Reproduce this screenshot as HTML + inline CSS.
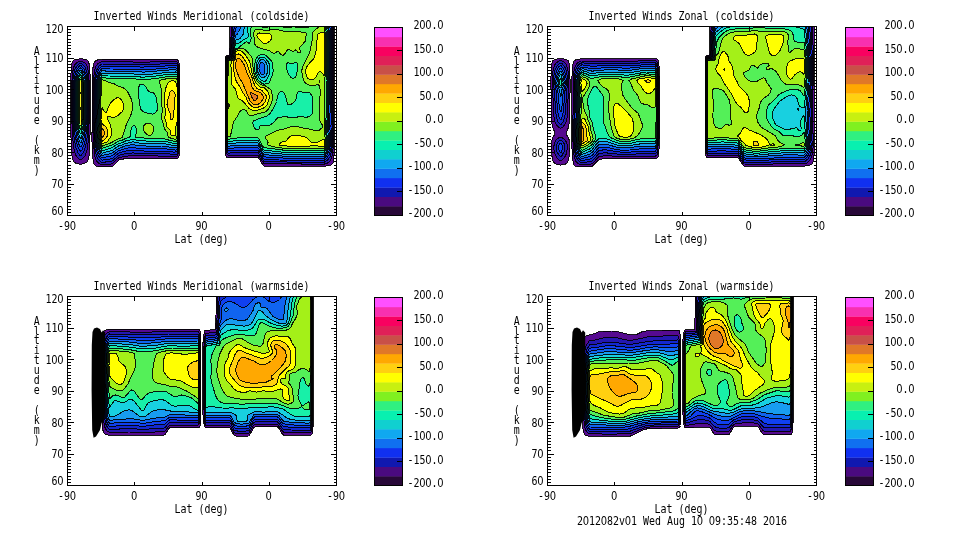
<!DOCTYPE html>
<html lang="en"><head><meta charset="utf-8"><title>Inverted Winds</title>
<style>
html,body{margin:0;padding:0;background:#fff;overflow:hidden}
svg{display:block;opacity:.999;will-change:transform}
text{font-family:'DejaVu Sans Mono','Liberation Mono',monospace;font-size:12px;fill:#000}
.z{font-family:'DejaVu Sans','Liberation Sans',sans-serif}
</style></head><body>
<svg width="960" height="540" viewBox="0 0 960 540">
<rect width="960" height="540" fill="#fff"/>
<clipPath id="c0"><rect x="67.5" y="26.5" width="269" height="189"/></clipPath>
<g clip-path="url(#c0)" stroke="#000" stroke-opacity=".9" stroke-width="1.0" stroke-linejoin="round" shape-rendering="crispEdges">
<path fill="#560a90" fill-rule="evenodd" d="M229.9 25 334.3 25 334.1 154 333.7 160 333 163 331.5 164.8 328.5 165.7 324 166.2 264 166 261.5 163 259.5 159.3 258 157.6 228 157.7 226.4 157 225.7 155.5 225.4 154 225.2 146.5 225.1 59.5 225.5 56.5 226.5 55.5 229.4 55ZM75 59.5 81 58.7 86.1 59.5 88.5 61.4 89.5 65.5 90.5 82 90.4 124 89.4 154 88.5 159.2 87 162 84 163.6 81 164.2 78 163.9 75.5 163 73.7 161.5 72.9 160 71.7 154 71.1 143.5 70.8 125.5 71 73 71.3 67 72.1 62.5 73.5 60.3ZM101.5 59.5 175.5 59.4 177 59.4 178.7 61 179.6 65.5 179.9 80.5 179.8 140.5 179.2 155.5 178.5 157.4 177 158.7 163.5 158.6 132 158.5 124.5 158.8 119.1 160 112.5 166.3 111 166.7 99 166.8 96 166.1 94.2 164.5 93.3 161.5 92.6 155.5 92 142 92.1 80.5 92.5 73 93.2 65.5 94.5 61.7 96 60.5 97.5 60Z"/>
<path fill="#2418b0" fill-rule="evenodd" d="M231.6 25 333.2 25 333.3 146.5 332.5 154 331.5 158.3 330 161 327.6 163 324 164.2 264 163.7 258 155.1 228 155.3 227 154 225.9 149.5 225.4 137.5 225.4 61 225.8 58 226.5 56.8 228 56.1 229.5 55.9 230.1 55ZM80.7 61 84.2 62.5 85.8 64 87 66.2 88.3 71.5 89.2 82 89.2 121 88 143.5 87 150.2 85.5 154.9 84 157.3 81 159.9 79.5 159.6 76.8 157 75.2 154 74.3 151 72.7 139 71.8 119.5 71.8 82 72.8 71.5 73.8 67 75.3 64 78 61.8ZM99.7 62.5 102 61.7 142.5 62.1 177 61.7 178 64 178.7 68.5 179.4 80.5 179.4 137.5 178.7 149.5 178 154 177 156.4 165 156.1 133.5 155.7 124.5 156.2 118.5 157.9 112.5 163.5 111 164.1 106.5 164.4 102 164.7 101.1 164.5 99 163.6 96.8 161.5 95.3 158.5 94.5 154.9 93.4 142 93.6 80.5 94.2 73 95.1 68.5 96.4 65.5 97.6 64Z"/>
<path fill="#1428d0" fill-rule="evenodd" d="M233.1 25 332.1 25 332.4 43 332.1 127 332.4 145 331.5 151.8 330 156.7 328.5 159.1 325.5 161.6 324 162.2 298.5 162.3 264 161.4 258 152.6 238.5 152.6 228 153.1 226.5 148.7 225.7 137.5 225.7 61 226.5 57.8 228 56.8 230.1 56.5 230.7 55 231.3 43ZM78.9 64 81 63.2 83.8 65.5 85.5 68 87.1 73 88.4 82 88.4 119.5 87.4 134.5 86.5 142 85.1 148 83.3 152.5 81.2 155.5 79.5 155 78 152.9 75.6 146.5 73.8 136 72.8 121 72.7 82 73 79 74 73 75 69.4 76.5 66.5ZM101.9 64 142.5 64.6 169.5 63.7 177 63.9 178.1 68.5 179 80.5 179 136 178.1 149.5 177 154.2 174 154.3 166.5 153.8 148.5 153.7 136.5 153.3 133.5 152.9 126 153.5 118.5 155.5 112.5 160.9 111 161.4 102 162.4 100.5 161.6 98.8 160 96.9 157 95.9 154 95 149.5 94.3 142 94 133 94.6 80.5 95.4 74.5 96.7 70 99 66.1Z"/>
<path fill="#1040f0" fill-rule="evenodd" d="M234.5 25 331 25 331.5 43 331 127 331.4 145 330.8 149.5 329.4 154 327 158 324.5 160 324 160.3 297 160.4 279 160 264 159.1 262.5 157.4 259.5 152 258 150.2 238.5 150.1 228 150.8 226.6 145 226 136 226 61 226.3 59.5 227.1 58 228 57.3 229.5 57.2 231.2 56.5 232 44.5ZM78.5 67 79.5 66 81 65.5 84 69 86.1 74.5 87.5 82 87.2 124 85.4 139 83.9 145 82.1 149.5 81 151.4 79.5 150.4 77.2 145 75 134.7 73.7 121 73.6 82 75.4 73 76.6 70ZM100.9 67 102 66.2 108 66.6 132 66.7 142.5 67.1 169.5 65.8 175.5 65.7 177 66.1 178.2 74.5 178.6 88 178.5 136 177.8 148 177 151.9 174 152.1 165 151.2 148.5 151.2 136.5 150.7 132 150.2 124.5 151.2 118.5 153.1 112.5 158.2 111 158.8 102 160.1 100.1 158.5 97.5 154 96.2 149.5 95.1 142 94.7 133 95.2 116.5 95.5 80.5 97.5 72.2 99 69.2Z"/>
<path fill="#1064f0" fill-rule="evenodd" d="M237 25 329.9 25 330.6 43 329.9 127 330.5 145 329.1 151 326.9 155.5 325.5 157.2 324 158.3 321 158.2 295.5 158.4 279 157.9 264 156.9 262.5 155 259.5 149.6 258 147.7 238.5 147.6 228 148.5 226.9 143.5 226.2 136 226.3 61 226.7 59.5 227.8 58 231 57.5 231.8 56.5 233.3 41.5 235.5 28.7 236.7 26.5ZM79.5 68.5 81 67.8 83.6 71.5 85.3 76 86.6 82 86.5 121 84.5 136 83.1 142 81.3 146.5 81 147.1 79.5 145.9 77.2 139 75.6 130 74.5 119.5 74.5 82 76.5 73.9 78 70.6ZM101.9 68.5 109.5 69 132 69.1 142.5 69.6 154.5 69.1 169.5 67.9 175.5 67.8 177 68.3 178 76 178.3 88 178.3 136 177.6 146.5 177 149.7 175.5 150.1 165 148.7 148.5 148.8 136.5 148.1 133.5 147.4 132 147.4 126 148.4 118.5 150.7 112.5 155.5 111 156.1 102 157.8 100.5 156.3 98.5 152.5 96.7 146.5 96 142 95.4 133 96.1 116.5 96.5 80.5 98.7 73 100.4 70Z"/>
<path fill="#189cf0" fill-rule="evenodd" d="M241.1 25 328.8 25 329.6 43 328.8 127 329.5 145 328.9 148 327.1 152.5 325.5 155 324 156.4 315 156.1 295.5 156.5 279 155.9 264 154.6 262.5 152.7 259.5 147.2 258 145.2 238.5 145.2 228 146.2 227.1 142 226.5 136 226.6 61 227.1 59.5 228 58.4 231.5 58 232.3 56.5 233.6 44.5 235.5 35.5 237 34.4 238.5 32.5 240.9 26.5ZM261 62.3 259.5 65 258.9 68.5 259.5 71.3 260.4 73 261 74.1 262.5 74.9 264 73.9 264.4 73 264.9 70 264.7 67 264 63.8 262.5 62.2ZM169.4 70 175.5 69.9 177 70.5 177.7 76 178.1 91 178.1 134.5 177.8 140.5 177 147.4 175.5 147.9 174 147.8 162 146 148.5 146.3 144 145.8 136.5 145.5 133.5 144.6 132 144.7 126 145.8 118.5 148.4 112.5 152.8 108 154.2 102 155.5 100.8 154 98.2 148 96.8 142 96.5 139 96.2 133 97 116.5 97.5 80.5 98.8 76 100.5 72.5 102 70.6 108 71.3 132 71.5 144 72.1ZM79.1 71.5 79.5 70.9 81 70.1 82 71.5 84.1 76 85.7 82 85.6 121 84 132.3 81.9 140.5 81 142.9 79.5 141.3 78.7 139 76.7 130 75.4 119.5 75.4 82 77 76Z"/>
<path fill="#18d0e0" fill-rule="evenodd" d="M244.7 25 327.8 25 328.7 43 328.7 64 328.1 80.5 328.1 118 327.7 127 328.6 145 327 150.1 325.5 152.8 324 154.4 312 154.1 295.5 154.6 279 153.9 264 152.3 262.5 150.4 258 142.8 238.5 142.7 228 143.9 226.9 136 227 61 228 58.9 232.8 58 233.1 52 235.5 40.2 238.5 39.5 240 38.5 242.6 35.5 243.2 34ZM262.5 59.5 261 59.6 259.3 61 257.9 64 257.2 68.5 258 72.4 259.5 75.7 261 77.1 262.5 77.5 264 77.4 265.9 76 267.2 73 267.4 70 267.1 65.5 266.1 62.5 264 60.1ZM80 73 81 72.3 82.2 74.5 84.8 82 84.7 121 83 131.5 81 138.6 79.5 136.8 78.5 133 76.3 119.5 76.3 82 78 76.5ZM101.9 73 109.5 73.7 132 73.8 142.5 74.7 154.5 73.9 169.5 72.1 175.5 72 177 72.7 177.8 80.5 177.9 94 177.8 136 177 145.2 175.5 145.8 174 145.6 165 143.8 157.5 143.5 148.5 143.9 144 143.2 136.5 142.9 133.5 141.8 132 141.9 130.5 142.5 126 143.3 121.5 145.2 118.5 146 112.5 150.2 102 153.2 99.9 149.5 98.4 145 97.7 142 96.9 133 97.9 116.5 98.5 80.5 100.1 76Z"/>
<path fill="#18f0a8" fill-rule="evenodd" d="M248.2 25 326.7 25 327.8 43 327.7 64 327.1 80.5 327.1 118 326.6 127 327.6 145 326.1 149.5 324 152.5 315 152.1 306 152.4 297 152.7 280.5 152 264 150 262.5 148.1 258 140.3 238.5 140.2 228 141.7 227.2 136 227 106 227.3 61 228 59.5 232.5 58.8 233.3 58 233.7 52 235.5 43.8 238.5 43.5 244.5 39.1 247.5 37.8 248.3 37 248.4 35.5 247.3 29.5ZM261 57.3 259.5 58 257.2 61 256.3 64 256 70 256.7 73 258.6 77.5 259.5 78.8 264 81.8 265.5 81.2 267 79.3 269.3 74.5 269.8 71.5 269.6 65.5 268.7 62.5 265.5 58.5 264 57.5ZM166.6 74.5 175.5 74.1 177 74.9 177.6 80.5 177.7 94 177.6 134.5 177 143 175.5 143.6 174 143.4 165 141.4 162 141 148.5 141.5 144 140.7 136.5 140.3 133.5 139.1 132 139.2 130.5 139.9 126 140.8 121.5 142.9 118.5 143.6 111 148.1 102 150.8 100.5 148.3 99.3 145 98.1 139 97.6 133 98.8 116.5 99.4 82 100 79 102 75.1 108 76 132 76.2 142.5 77.2 154.5 76.3ZM79.4 76 81 74.6 83.9 82 83.9 119.5 83.1 125.5 81.4 133 81 134.3 79.5 132.2 78 125.4 77.2 119.5 77.2 82Z"/>
<path fill="#54f058" fill-rule="evenodd" d="M253.3 25 258.5 25 260.1 26.5 264 27.7 271.2 26.5 275.4 25 277.6 25 281.1 26.5 285 27.4 294 26.9 300 27.4 307.5 27.5 310.5 26.7 311.7 25 325.6 25 326.8 43 326.8 64 326 80.5 326 118 325.5 127 326.6 145 325.7 148 324 150.5 313.5 150.1 304.5 150.6 297 150.8 280.5 149.9 270 148.3 264 147.7 262.5 145.7 259.8 140.5 258 137.8 238.5 137.7 228 139.4 227.6 136 227.3 106 227.7 61 228 60.2 232.5 59.4 233.7 58 234.3 52 235.5 48.2 237 48.4 239 47.5 240 46.3 246 41.8 247.5 42.2 248.8 43 249 43.5 250.5 40.9 251.1 38.5 250.6 29.5 251 28ZM261 54.6 258 55.8 255.7 59.5 254.7 64 254.8 71.5 257.3 79 258 80 262.5 83.8 264 84.1 267 83.9 268.5 83.4 269.7 82 270.6 79 272.7 74.5 273.1 71.5 272.8 64 271.4 61 267 56.3 264 54.6ZM280.5 91.6 279 93 277.9 95.5 276.5 101.5 275.4 104.5 270.3 113.5 267 116 260.7 118 253.5 121 252.9 122.5 253.2 125.5 255 128.7 256.5 129.9 258 129.7 259.3 128.5 260.2 125.5 261 124.9 264 125.8 265.5 125.9 270 125 273.8 122.5 277.5 117.7 285 116.5 288 117.1 292.5 118 300 116.5 306 117.3 309 116.7 310.5 115.9 312 113.9 312.7 110.5 313 100 312.5 97 310.5 93.5 309 92.4 303 92.3 300 91.1 298.5 91.4 297.1 94 296.1 98.5 294.7 101.5 292.5 103.6 289.5 104.9 287.9 104.5 284.7 94 283.5 92.5 282 91.6ZM288 62.5 286.4 64 286.1 67 288.6 74.5 291 77.5 292.5 78.2 294 78.1 295.5 77 296.6 74.5 297.1 71.5 297.3 65.5 297 62.9 295.5 62.4 292.5 64 291 63.9ZM80.3 77.5 81 76.9 83 82 83 119.5 81 130 79.5 127.6 78.1 119.5 78.1 82 79.5 78.2ZM101.9 77.5 109.5 78.4 133.5 78.7 142.5 79.8 154.5 78.7 169.5 76.3 175.5 76.2 177 77.1 177.5 94 177.4 134.5 177 140.7 175.5 141.5 169.5 140.3 163.5 138.5 154.5 138.5 148.5 139 144 138 136 137.5 135.7 136 136.5 131.5 136.3 128.5 135 125.7 133.5 125.3 132 127 131.3 128.5 130.6 131.5 130.2 136 129.6 137.5 126 138.2 121.5 140.5 118.5 141.2 112.5 144.8 102 148.5 100.5 145.6 99.4 142 98.4 133 99.7 116.5 100.3 83.5 100.5 80.5ZM141 84.2 139.5 85.1 139 86.5 138.4 94 139.9 106 140.7 109 142.5 111.2 145.5 112.6 151.5 114 153 114 154.5 113.4 157.1 110.5 157.9 107.5 156 97 155.4 95.5 154.5 93.8 153 92.7 150 92.1 148.5 91.3 145.6 86.5 144 84.8 142.5 84.1Z"/>
<path fill="#a4f018" fill-rule="evenodd" d="M320.1 26.5 321.2 25 324.2 25 325.8 38.5 325.9 64 324.8 80.5 324.8 118 324.1 127 325.5 142 325.7 145 325.3 146.5 324 148.6 313.5 148.1 298.5 148.9 280.5 147.9 272.5 146.5 267.6 145 268.1 142 267.5 140.5 266.2 139 265.4 137.5 266.1 136 270 134 277.5 130.2 283.5 129.1 289.5 127.1 292.5 126.5 297 126.5 301.5 127.8 309 129 316.5 131 319.6 130 322.8 127 322.6 125.5 320.1 121 319.5 118 319.4 103 320.4 91 319.5 86.7 318.8 85 318 84 315 85.5 312 85.7 309 85 306 83.3 304.5 82 303.6 80.5 301.7 71.5 302.4 67 309 54 310.3 50.5 312.4 38.5 312.7 32.5 315.2 29.5ZM319.5 80.3 319.5 82.4 319.9 80.5ZM255.9 29.5 258 29.2 265.5 30.4 273 29.7 277.5 29.7 285 31.4 288 31.6 295.5 31.1 306 32.9 306.6 34 305.7 37 305.2 41.5 300.8 46 299.6 47.5 299.2 49 300 49.8 300.7 52 300 52.7 298.5 52.4 297.6 52 297 51 295.5 50.5 292.5 51.4 289.5 49.6 288 49.5 286.5 50.9 285 53.5 283.5 55 282 55 279.8 53.5 279 51.7 277.5 51.2 274.5 53.3 273 53 268.5 50.3 262.5 48.9 256.5 46.6 254.9 44.5 253.6 34 254.2 31ZM295.5 49 295.5 49.3 296.2 49ZM238.2 49 241.5 48.3 244.5 49.1 246.3 50.5 251.2 56.5 252.5 59.5 253.3 71.5 256.4 80.5 261 84.7 265.5 85.9 270.6 89.5 271.5 91 272.6 97 271.9 101.5 270.1 106 267.4 110.5 265.5 111.8 250.5 115.9 248.6 115 246 110.5 244.5 109.8 243 109.6 241.5 110.2 239.7 112 237.3 116.5 234 121.1 233 124 230.5 136 228 136.8 227.9 136 227.7 104.5 228.2 61 234 59.7 234.6 53.5 235.3 50.5 235.5 50ZM165.5 79 174 78.3 175.5 78.3 177 79.3 177.3 94 177 138.2 175.5 139.3 172.5 138.7 168.9 137.5 167.9 136 167.6 133 164.2 128.5 163.6 124 162.3 121 161.6 118 161.7 115 162.6 110.5 161.2 101.5 161.3 89.5 159.2 80.5ZM79.6 80.5 81 79.2 82.1 82 82.1 119.5 81 125.8 79.5 123.1 79 119.5 79 82ZM101.6 80.5 102 79.7 105.4 80.5 108 82.2 114 83.8 118.5 86.2 124.5 88.4 126 89.7 127.5 91.6 131.7 100 132.5 106 132 111.6 130.3 116.5 126.5 124 122.7 136 122.1 137.5 121.5 137.8 118.5 138.7 111 142.8 102 146.2 100.5 142.9 99.1 133 100.7 115 101.2 86.5ZM145.3 124 147 123.3 148.5 123.2 150.8 124 152.6 125.5 153.3 127 153.5 130 152.9 133 151.8 134.5 150 135.6 148.5 135.5 145.5 133.3 144.3 131.5 143.7 130 143.5 127 144 125.5Z"/>
<path fill="#ffff00" fill-rule="evenodd" d="M320.9 32.5 324 32.2 324.6 38.5 324.8 62.5 324 76.1 322.5 73.5 321 72.1 319.5 71.7 318 72.7 315.6 77.5 314.2 79 312 79.7 310.5 79.7 309 79.2 307.5 77.9 305.6 73 305.3 71.5 305.5 70 307.5 65.3 313.1 59.5 314.7 56.5 316.2 50.5 317.4 35.5 318 33.9ZM257.3 34 258 33.3 259.5 33 270 34 271.9 35.5 271.6 38.5 270 41 267 43.1 265.5 43.4 263.1 43 258 38 256.9 35.5ZM238.1 50.5 240.1 50.5 243 52.4 245.4 55 249 60.5 250.4 64 251.6 71.5 254.7 80.5 256.5 83.5 259.5 86.7 261 87.4 264 87.6 267.4 91 268.5 93.2 269.5 97 269.3 98.5 267.3 104.5 264.7 107.5 261 109 256.5 110.4 253.5 110.5 250.5 109.6 249 108.4 243 101.3 238.5 98.5 237.6 97 235.7 89.5 232.5 85.6 231.4 83.5 231.1 80.5 231.5 71.5 230.9 65.5 231.3 61 234 60.3 234.6 59.5 235.5 51.9ZM80.4 82 81 81.4 81.2 82 81.1 121 81 121.5 80.7 121 80.4 119.5 80.3 116.5ZM169.3 82 171 81.1 172.5 80.8 175.5 81.2 177 87.1 177 121.6 175.9 127 175.8 134.5 175.5 135.4 174 135.8 172.5 135.9 171 135 170.7 131.5 169.9 130 166.9 127 166.5 124 164.7 118 165.6 112 164.3 103 165.1 91 166.5 85.6 168 83.2ZM115.5 98.5 117 97.7 118.5 97.7 120 98.5 121.5 100.2 122.9 103 123.8 106 123.8 107.5 123 110.4 121.8 112 117 116.2 114 117.3 112.5 117.5 109.5 116.6 108 116.5 107.9 119.5 110 124 111.6 130 111.9 133 111 136 108 141.1 107 142 102 143.9 100.5 138.9 99.9 131.5 101.5 119.5 102 107.6 103.5 110.5 105 112.3 106.5 112.6 107.7 109 110.6 103 112.5 100.9ZM228 104.5 228 103.4 229.4 104.5 229.5 106.4 228 108.5ZM290.7 136 295.5 135.3 303 136.3 306.2 137.5 310.5 141.8 313.5 142.7 318 142 324 139.2 324.5 145 324 146.6 316.5 145.8 312 145.8 306 146.6 298.5 147 290.9 146.5 278.9 145 280.5 142.8 282 142 285 141.4 286.5 140.5 288.7 137.5Z"/>
<path fill="#ffd010" fill-rule="evenodd" d="M235.7 55 237 54.2 238.5 54 240 54.4 242.4 56.5 247.2 64 249.4 71.5 252 77.5 253.3 82 255.4 86.5 256.5 88 258 89 261 90.1 262.4 91 266.1 95.5 266.5 97 265.2 101.5 263.2 104.5 261.2 106 258 107.2 255 107.6 253.5 107.4 252 106.5 249.8 104.5 248.4 103 246 97.3 242.8 92.5 239.7 86.5 236.7 82 235.4 79 233.1 67 234 61 235.2 59.5ZM170.7 91 172.5 90.6 174 91.6 175 94 175.1 95.5 173.5 116.5 173.1 118 172 119.5 171 119.8 170.2 118 170.2 113.5 167.7 107.5 167 104.5 168 99.4 169.9 92.5ZM101.9 124 102 123.5 105.8 127 106.8 128.5 107.8 131.5 107.9 133 107.3 136 105.3 139 102 141.3 101.5 139 100.6 133Z"/>
<path fill="#ffa800" fill-rule="evenodd" d="M236.7 59.5 237 58.7 238.5 58.1 240 58.9 243.8 64 247.1 73 250 79 251.8 86.5 253.5 89.4 255 90.5 260.4 92.5 264 97 262.5 100 260 103 258 104.5 255 105.1 253.5 104.7 250.3 101.5 243 84 239.2 77.5 235.5 67.9 235.3 65.5ZM102 128.5 103.5 129.7 104.5 131.5 104.8 133 104.5 134.5 103.6 136 102 137.3 101.4 133Z"/>
<path fill="#e07828" fill-rule="evenodd" d="M250.3 92.5 250.5 92.1 257.4 95.5 257.8 97 256.5 99.5 255 100.6 253.4 100 252 97.6Z"/>
</g><g transform="translate(0,0)"><path d="M80.5 80.5V92M80.5 94V107M80.5 109.5V125" stroke="#f0f020" stroke-width="1" shape-rendering="crispEdges" fill="none"/></g>
<rect x="67.5" y="26.5" width="269.0" height="189.0" fill="none" stroke="#000" stroke-width="1"/>
<path d="M67.5 212.35h3M336.5 212.35h-3M67.5 209.20h3M336.5 209.20h-3M67.5 206.05h3M336.5 206.05h-3M67.5 202.90h3M336.5 202.90h-3M67.5 199.75h3M336.5 199.75h-3M67.5 196.60h3M336.5 196.60h-3M67.5 193.45h3M336.5 193.45h-3M67.5 190.30h3M336.5 190.30h-3M67.5 187.15h3M336.5 187.15h-3M67.5 184.00h6M336.5 184.00h-6M67.5 180.85h3M336.5 180.85h-3M67.5 177.70h3M336.5 177.70h-3M67.5 174.55h3M336.5 174.55h-3M67.5 171.40h3M336.5 171.40h-3M67.5 168.25h3M336.5 168.25h-3M67.5 165.10h3M336.5 165.10h-3M67.5 161.95h3M336.5 161.95h-3M67.5 158.80h3M336.5 158.80h-3M67.5 155.65h3M336.5 155.65h-3M67.5 152.50h6M336.5 152.50h-6M67.5 149.35h3M336.5 149.35h-3M67.5 146.20h3M336.5 146.20h-3M67.5 143.05h3M336.5 143.05h-3M67.5 139.90h3M336.5 139.90h-3M67.5 136.75h3M336.5 136.75h-3M67.5 133.60h3M336.5 133.60h-3M67.5 130.45h3M336.5 130.45h-3M67.5 127.30h3M336.5 127.30h-3M67.5 124.15h3M336.5 124.15h-3M67.5 121.00h6M336.5 121.00h-6M67.5 117.85h3M336.5 117.85h-3M67.5 114.70h3M336.5 114.70h-3M67.5 111.55h3M336.5 111.55h-3M67.5 108.40h3M336.5 108.40h-3M67.5 105.25h3M336.5 105.25h-3M67.5 102.10h3M336.5 102.10h-3M67.5 98.95h3M336.5 98.95h-3M67.5 95.80h3M336.5 95.80h-3M67.5 92.65h3M336.5 92.65h-3M67.5 89.50h6M336.5 89.50h-6M67.5 86.35h3M336.5 86.35h-3M67.5 83.20h3M336.5 83.20h-3M67.5 80.05h3M336.5 80.05h-3M67.5 76.90h3M336.5 76.90h-3M67.5 73.75h3M336.5 73.75h-3M67.5 70.60h3M336.5 70.60h-3M67.5 67.45h3M336.5 67.45h-3M67.5 64.30h3M336.5 64.30h-3M67.5 61.15h3M336.5 61.15h-3M67.5 58.00h6M336.5 58.00h-6M67.5 54.85h3M336.5 54.85h-3M67.5 51.70h3M336.5 51.70h-3M67.5 48.55h3M336.5 48.55h-3M67.5 45.40h3M336.5 45.40h-3M67.5 42.25h3M336.5 42.25h-3M67.5 39.10h3M336.5 39.10h-3M67.5 35.95h3M336.5 35.95h-3M67.5 32.80h3M336.5 32.80h-3M67.5 29.65h3M336.5 29.65h-3M134.75 215.5v-4M134.75 26.5v4M202.00 215.5v-4M202.00 26.5v4M269.25 215.5v-4M269.25 26.5v4" stroke="#000" stroke-width="1" fill="none" shape-rendering="crispEdges"/>
<text transform="translate(51.50,215.00) scale(0.8305,1)" x="3.6 10.8" text-anchor="middle">6<tspan class="z">0</tspan></text>
<text transform="translate(51.50,188.00) scale(0.8305,1)" x="3.6 10.8" text-anchor="middle">7<tspan class="z">0</tspan></text>
<text transform="translate(51.50,156.50) scale(0.8305,1)" x="3.6 10.8" text-anchor="middle">8<tspan class="z">0</tspan></text>
<text transform="translate(51.50,125.00) scale(0.8305,1)" x="3.6 10.8" text-anchor="middle">9<tspan class="z">0</tspan></text>
<text transform="translate(45.50,93.50) scale(0.8305,1)" x="3.6 10.8 18.1" text-anchor="middle">1<tspan class="z">0</tspan><tspan class="z">0</tspan></text>
<text transform="translate(45.50,62.00) scale(0.8305,1)" x="3.6 10.8 18.1" text-anchor="middle">11<tspan class="z">0</tspan></text>
<text transform="translate(45.50,33.00) scale(0.8305,1)" x="3.6 10.8 18.1" text-anchor="middle">12<tspan class="z">0</tspan></text>
<text transform="translate(58.00,229.70) scale(0.8305,1)" x="3.6 10.8 18.1" text-anchor="middle">-9<tspan class="z">0</tspan></text>
<text transform="translate(131.25,229.70) scale(0.8305,1)" x="3.6" text-anchor="middle"><tspan class="z">0</tspan></text>
<text transform="translate(195.50,229.70) scale(0.8305,1)" x="3.6 10.8" text-anchor="middle">9<tspan class="z">0</tspan></text>
<text transform="translate(265.75,229.70) scale(0.8305,1)" x="3.6" text-anchor="middle"><tspan class="z">0</tspan></text>
<text transform="translate(327.00,229.70) scale(0.8305,1)" x="3.6 10.8 18.1" text-anchor="middle">-9<tspan class="z">0</tspan></text>
<text transform="translate(174.50,243.00) scale(0.8305,1)" x="3.6 10.8 18.1 25.3 32.5 39.7 47.0 54.2 61.4" text-anchor="middle">Lat (deg)</text>
<text transform="translate(93.50,20.20) scale(0.8305,1)" x="3.6 10.8 18.1 25.3 32.5 39.7 47.0 54.2 61.4 68.6 75.9 83.1 90.3 97.5 104.8 112.0 119.2 126.4 133.7 140.9 148.1 155.3 162.6 169.8 177.0 184.2 191.5 198.7 205.9 213.1 220.4 227.6 234.8 242.0 249.2 256.5" text-anchor="middle">Inverted Winds Meridional (coldside)</text>
<text transform="translate(36.80,54.50) scale(0.8305,1)" x="0 0 0 0 0 0 0 0 0 0 0 0 0" y="0 10 20 30 40 50 60 70 80 90 100 110 120" text-anchor="middle">Altitude (km)</text>
<rect x="374.5" y="206.10" width="28.0" height="9.70" fill="#280838"/>
<rect x="374.5" y="196.70" width="28.0" height="9.70" fill="#4a0a80"/>
<rect x="374.5" y="187.30" width="28.0" height="9.70" fill="#1018b0"/>
<rect x="374.5" y="177.90" width="28.0" height="9.70" fill="#1030f0"/>
<rect x="374.5" y="168.50" width="28.0" height="9.70" fill="#1070f0"/>
<rect x="374.5" y="159.10" width="28.0" height="9.70" fill="#10a8f0"/>
<rect x="374.5" y="149.70" width="28.0" height="9.70" fill="#10d0d0"/>
<rect x="374.5" y="140.30" width="28.0" height="9.70" fill="#08f0b0"/>
<rect x="374.5" y="130.90" width="28.0" height="9.70" fill="#30f080"/>
<rect x="374.5" y="121.50" width="28.0" height="9.70" fill="#80f020"/>
<rect x="374.5" y="112.10" width="28.0" height="9.70" fill="#c8f010"/>
<rect x="374.5" y="102.70" width="28.0" height="9.70" fill="#ffff00"/>
<rect x="374.5" y="93.30" width="28.0" height="9.70" fill="#ffd010"/>
<rect x="374.5" y="83.90" width="28.0" height="9.70" fill="#ffa800"/>
<rect x="374.5" y="74.50" width="28.0" height="9.70" fill="#e07828"/>
<rect x="374.5" y="65.10" width="28.0" height="9.70" fill="#c85048"/>
<rect x="374.5" y="55.70" width="28.0" height="9.70" fill="#e02058"/>
<rect x="374.5" y="46.30" width="28.0" height="9.70" fill="#f80060"/>
<rect x="374.5" y="36.90" width="28.0" height="9.70" fill="#f830b0"/>
<rect x="374.5" y="27.50" width="28.0" height="9.70" fill="#ff50ff"/>
<rect x="374.5" y="27.5" width="28.0" height="188.0" fill="none" stroke="#000"/>
<path d="M402.5 191.50h-6M402.5 168.00h-6M402.5 144.50h-6M402.5 121.00h-6M402.5 97.50h-6M402.5 74.00h-6M402.5 50.50h-6" stroke="#000" fill="none" shape-rendering="crispEdges"/>
<text transform="translate(407.50,217.40) scale(0.8305,1)" x="3.6 10.8 18.1 25.3 32.5 39.7" text-anchor="middle">-2<tspan class="z">0</tspan><tspan class="z">0</tspan>.<tspan class="z">0</tspan></text>
<text transform="translate(407.50,193.90) scale(0.8305,1)" x="3.6 10.8 18.1 25.3 32.5 39.7" text-anchor="middle">-15<tspan class="z">0</tspan>.<tspan class="z">0</tspan></text>
<text transform="translate(407.50,170.40) scale(0.8305,1)" x="3.6 10.8 18.1 25.3 32.5 39.7" text-anchor="middle">-1<tspan class="z">0</tspan><tspan class="z">0</tspan>.<tspan class="z">0</tspan></text>
<text transform="translate(413.50,146.90) scale(0.8305,1)" x="3.6 10.8 18.1 25.3 32.5" text-anchor="middle">-5<tspan class="z">0</tspan>.<tspan class="z">0</tspan></text>
<text transform="translate(425.50,123.40) scale(0.8305,1)" x="3.6 10.8 18.1" text-anchor="middle"><tspan class="z">0</tspan>.<tspan class="z">0</tspan></text>
<text transform="translate(419.50,99.90) scale(0.8305,1)" x="3.6 10.8 18.1 25.3" text-anchor="middle">5<tspan class="z">0</tspan>.<tspan class="z">0</tspan></text>
<text transform="translate(413.50,76.40) scale(0.8305,1)" x="3.6 10.8 18.1 25.3 32.5" text-anchor="middle">1<tspan class="z">0</tspan><tspan class="z">0</tspan>.<tspan class="z">0</tspan></text>
<text transform="translate(413.50,52.90) scale(0.8305,1)" x="3.6 10.8 18.1 25.3 32.5" text-anchor="middle">15<tspan class="z">0</tspan>.<tspan class="z">0</tspan></text>
<text transform="translate(413.50,29.40) scale(0.8305,1)" x="3.6 10.8 18.1 25.3 32.5" text-anchor="middle">2<tspan class="z">0</tspan><tspan class="z">0</tspan>.<tspan class="z">0</tspan></text>
<clipPath id="c1"><rect x="547.5" y="26.5" width="269" height="189"/></clipPath>
<g clip-path="url(#c1)" stroke="#000" stroke-opacity=".9" stroke-width="1.0" stroke-linejoin="round" shape-rendering="crispEdges">
<path fill="#560a90" fill-rule="evenodd" d="M709.8 25 814.2 25 814.1 154 813.6 160 812.8 163 811.5 164.5 808.5 165.6 804 166.1 744 166.2 740.4 161.5 739.5 159.4 738 157.8 708 157.8 706.4 157 705.4 154 705.1 146.5 705.1 59.5 705.5 56.5 706.5 55.5 709.5 55ZM554.7 59.5 558 58.7 561 58.5 566.4 59.5 568.5 61.1 569.5 65.5 570.2 83.5 569.5 121 568.5 127.5 566 133 566.4 134.5 568.5 137.6 569.3 140.5 569.6 151 569.1 157 568.5 160 567 162.9 565.5 164 561 165.1 558 164.8 555 163.6 553.5 162 552.6 160 551.6 154 551.3 146.5 551.8 140.5 552.7 137.5 554.7 134.5 555.1 133 552.5 127 551.5 121 550.9 83.5 551.1 71.5 551.5 65.5 552.1 62.5 552.6 61ZM576.7 59.5 582 58.7 648 58.7 655.5 58.8 657 59 657.6 59.5 658.3 61 659.2 67 659.6 79 659.6 137.5 658.9 151 658 157 657 158.3 655.5 158.6 646.5 158.6 604.5 158.5 600 159.4 598.7 160 592.5 166.2 591 166.7 579 167 575.1 166 573.7 164.5 572.4 158.5 571.9 146.5 572 76 572.5 67 573.3 62.5 574.5 60.5Z"/>
<path fill="#2418b0" fill-rule="evenodd" d="M711.4 25 812.7 25 813.3 62.5 812.7 110.5 813.2 146.5 812.6 152.5 811.5 157.3 810 160.4 807 162.9 804 163.9 784.5 163.8 756 164.3 744 164 738 155.6 708 155.5 706.8 154 705.9 149.5 705.4 137.5 705.4 61 705.8 58 706.5 56.9 708 56.1 709.5 56 710.2 55 710.5 37ZM559.1 61 561 60.7 564 62.1 565.5 63.5 566.7 65.5 567.9 70 568.8 79 568.9 83.5 567 118 566.5 121 565.5 123.7 562.8 127 561 128.2 559.5 127.9 556.8 125.5 555.8 124 554.3 119.5 553.4 110.5 552.8 91 552.2 83.5 552.9 71.5 553.9 67 555 64.4 556.6 62.5ZM581.3 61 592.5 61.5 606 61.1 627 61.3 649.5 60.7 655.5 60.9 657 61.8 658.1 67 658.5 80.5 658.4 137.5 657.7 152.5 657 155.1 655.5 156.1 643.5 156.1 621 156.5 604.5 155.6 598.5 157 592.5 163.4 591 164.1 582 165 579 164.1 577.3 163 576 161.5 574.7 158.5 573.8 154 572.9 140.5 573.2 79 574.1 70 575.4 65.5 577.8 62.5ZM559.2 137.5 561 137 564.2 139 566.3 142 567.2 145 567.2 149.5 566.2 154 564.8 157 562.5 159.6 561 160.7 559.5 160.3 558 159.1 555.5 155.5 554.1 151 553.8 146.5 554.8 142 556.5 139.4Z"/>
<path fill="#1428d0" fill-rule="evenodd" d="M712.8 25 811.2 25 812.4 62.5 812.2 83.5 811.3 110.5 812.1 145 811.3 151 810 155.5 808.3 158.5 805.5 161.1 804 161.7 784.5 161.5 757.5 162.5 744 162 738 153.5 723 153.1 708 153.4 706.5 149.3 705.6 137.5 705.7 61 706.5 57.9 708 56.8 710.5 56.5 710.9 55 711.5 35.5ZM558.7 64 561 63.1 562.5 64.1 564.8 67 566.1 70 566.8 73 567.7 82 566.6 91 565.8 107.5 565 115 563.5 121 561.4 124 561 124.4 559.5 123.8 558.4 122.5 557.1 119.5 556.4 116.5 555.4 109 554.5 91 553.4 83.5 553.9 76 555 70.1 556.5 66.6ZM579.5 64 582 62.8 592.5 63.9 606 63.3 627 63.7 648 62.6 655.5 62.9 657 64.5 657.8 70 658.3 80.5 658.2 137.5 657.2 151 657 151.8 655.5 153.7 642 153.7 630 154.3 621 154.4 604.5 152.7 598.5 154 592.5 160.6 591 161.4 582 162.9 579.2 161.5 577.5 159.6 576 156.5 575 152.5 573.7 140.5 574.3 100 574 80.5 574.7 74.5 575.7 70 577.5 66.1ZM559.3 140.5 561 139.9 562.5 141.2 564.1 143.5 565 146.5 564.4 151 562 155.5 561 156.6 559.5 155.9 557.3 152.5 556.3 149.5 556.1 146.5 556.4 145 557.9 142Z"/>
<path fill="#1040f0" fill-rule="evenodd" d="M713.9 26.5 714.1 25 809.7 25 811.4 62.5 811.1 83.5 809.9 110.5 810.2 127 811.1 145 810 150.7 808 155.5 805.5 158.6 804 159.5 802.5 159.5 784.5 159.3 756 160.6 744 159.9 738 151.4 723 150.9 708 151.2 706.5 145.4 705.9 137.5 706 61 706.2 59.5 707.1 58 708 57.3 711 57 711.5 56.5 712.3 37ZM580.6 65.5 582 64.8 592.5 66.3 606 65.5 627 66 648 64.5 655.5 64.9 656 65.5 657 67.2 657.2 68.5 658.1 80.5 657.9 137.5 657.1 148 655.5 151.2 643.5 151.2 628.5 152.2 621 152.2 606 149.9 603 149.9 598.5 151 592.5 157.8 591 158.7 582 160.8 580.5 160.1 579 158.5 577.3 155.5 576 151.6 574.4 140.5 575.3 100 574.8 82 575.2 77.5 576.7 71.5 578 68.5ZM558.7 67 559.5 66.1 561 65.5 563.4 68.5 565.5 74.4 566.5 82 566.3 85 564.9 91 563.5 110.5 562.5 115.7 561.3 119.5 561 120 559.5 118.6 558.1 113.5 557.3 107.5 556.2 91 554.6 83.5 554.8 79 555.9 73 556.9 70ZM560.1 143.5 561 143.1 562.6 146.5 562.7 148 561.8 151 561 152.5 559.5 151.4 558.7 149.5 558.5 146.5 559.5 143.9Z"/>
<path fill="#1064f0" fill-rule="evenodd" d="M715.3 25 808.2 25 810.4 62.5 810.1 83.5 808.5 110.5 808.8 127 810 145 809 149.5 807 154.1 805.5 156.1 804 157.4 802.5 157.3 784.5 157.1 774 158 753 158.7 744 157.9 738 149.3 723 148.7 708 149.1 706.7 143.5 706.2 136 706.3 61 706.6 59.5 707.8 58 711 57.7 712.1 56.5 713.3 35.5ZM581.7 67 585 67.2 589.5 68.4 592.5 68.7 606 67.6 615 67.6 627 68.3 646.5 66.4 655.5 66.9 657 69.9 657.8 80.5 657.6 137.5 657 145.2 655.5 148.8 640.5 148.8 630 150 621 150.1 616.5 149.5 606 147 601.5 147.2 598.5 147.9 592.5 155 591 156 582 158.7 579.9 157 578.2 154 577.1 151 576 146.5 575.2 140.5 575.2 130 576 118 576.3 100 575.7 82 576 78.4 577.5 72.9 579.9 68.5ZM560.3 68.5 561 68.1 561.3 68.5 563.6 73 565.4 82 565.1 85 563.3 91 562 106 561 112.3 559.5 108.9 557.8 91 555.7 83.5 556.1 79 557.5 73 558.8 70 559.5 68.9Z"/>
<path fill="#189cf0" fill-rule="evenodd" d="M719.4 25 806.7 25 809.4 62.5 809 83.5 807 110.5 807.5 127 808.9 145 808.5 147.3 807.1 151 805.5 153.7 804 155.2 792 154.8 784.5 154.8 775.5 155.9 768 156 757.5 156.9 753 156.8 744 155.8 738 147.2 723 146.4 708 147 707 142 706.4 136 706.6 61 707.1 59.5 708 58.4 712.6 58 713.7 38.5 714.6 32.5 715.5 29.1 718.8 26.5ZM643.3 68.5 649.5 68.2 655.5 68.9 657 72.6 657.6 80.5 657.4 137.5 657 142 655.5 146.3 640.5 146.3 636 146.7 630 147.8 622.5 148 618 147.5 606 144.2 603 144 598.5 144.9 595.5 148.1 592.5 152.2 589.7 154 582 156.6 580.5 155.4 579 152.8 577.7 149.5 576.1 142 575.9 130 576.9 118 577.3 100 576.6 80.5 577.6 76 579.5 71.5 580.5 69.9 582 68.8 585 69.2 589.5 70.8 592.5 71.1 606 69.8 615 69.8 627 70.6ZM560.2 71.5 561 70.9 562 73 563.4 77.5 564.2 82 563.9 85 562 89.5 561.1 95.5 561 96.4 559.1 89.5 556.9 83.5 557.1 80.5 558.1 76 559.5 72.1Z"/>
<path fill="#18d0e0" fill-rule="evenodd" d="M724.1 25 805.2 25 807.8 52 808.4 62.5 808 83.5 805.6 110.5 806.2 127 807.9 145 806.4 149.5 804 153 792 152.5 784.5 152.6 775.5 153.8 769.5 153.9 759 155 754.5 155.1 744 153.8 738 145.2 723 144.2 708 144.8 706.8 136 706.9 61 708 58.9 712.5 58.7 713.3 58 714 50.5 714.5 38.5 715.5 32.5 723.2 26.5ZM581.2 71.5 582 70.8 583.5 71 586.5 71.8 589.5 73.2 592.5 73.6 601.5 72.2 606 72 615 72 627 73 646.5 70.1 649.5 70.1 655.5 70.9 657 75.3 657.4 80.5 656.9 139 655.5 143.9 640.5 143.9 636 144.4 630 145.7 621 145.8 616.5 144.9 606 141.3 601.5 141.2 598.5 141.8 595.5 145.1 592.5 149.4 590.5 151 586.5 152.9 582 154.5 580.5 153.1 578.3 148 576.8 142 576.6 133 576.9 125.5 577.9 118 578.3 100 577.4 86.5 577.4 80.5 579 75.1ZM560.7 74.5 561 74.3 561.6 76 563 82 563 83.5 561.9 86.5 561 88 559.5 87 558.1 83.5 558.3 80.5 559 77.5 559.5 75.9Z"/>
<path fill="#18f0a8" fill-rule="evenodd" d="M732.8 26.5 737.8 25 791.1 25 794.1 26.5 799.5 27.8 804 29.4 806.9 53.5 807.5 65.5 806.8 85 804 107.9 799.5 106.7 797 98.5 796.2 97 795 95.9 792 94.9 789 95.2 781.5 99.9 778.5 102.7 773.8 109 772.7 112 772.4 115 773.1 119.5 775.5 124.4 777 125.7 786 130 796.5 127.7 798.4 130 799.5 130.3 801 130 801.1 127 800 125.5 800 124 801.2 119.5 802.5 117.3 804 115.5 804.6 127 805.7 133 806.8 145 805.9 148 804 150.8 795 150.3 784.5 150.3 775.5 151.8 769.5 151.8 759 153.1 754.5 153.2 744 151.7 738 143.1 723 141.9 708 142.7 707.1 136 707.2 61 708 59.4 712.5 59.2 713.9 58 714.8 50.5 715.5 36.8 719.5 32.5 724.5 28.8 727.5 27.5ZM581.7 73 582 72.7 585 73.3 589.5 75.5 592.5 76 601.5 74.4 606 74.1 615 74.2 627 75.3 646.5 72 649.5 72 655.5 72.9 657 78 657.1 80.5 656.5 137.5 656.2 139 655.5 141.4 640.5 141.5 636 142 630 143.5 621 143.6 616.5 142.6 606 138.5 601.5 138.2 598.5 138.8 595.5 142 592.5 146.6 589.5 149 582 152.4 580.5 150.8 579 147.2 577.6 142 577.3 131.5 577.7 125.5 578.8 118 579.3 100 578.3 86.5 578.3 80.5 579.7 76 580.5 74.3ZM560.4 79 561 78.2 561.8 82 561.9 83.5 561 85.7 560 85 559.2 83.5 559.5 80.4ZM797.7 109 798 108.7 798.3 109 798.1 110.5Z"/>
<path fill="#54f058" fill-rule="evenodd" d="M752.7 28 757.5 27.8 781.5 28.5 787.5 29.3 790.5 30.7 792.3 32.5 793.4 35.5 793.8 40 794.8 41.5 798 42.4 804 42.2 805.8 53.5 806.5 65.5 805.9 83.5 804 96.2 800.5 91 797.6 89.5 793.5 89.4 789 89.9 781.5 92.9 778.5 95.1 774 100.3 769.5 104 767.9 106 766.9 109 766.5 116.5 767.1 119.5 767.9 121 771.7 127 774 128.9 778.9 131.5 783 135.3 784.5 135.8 790.5 135.2 795 136.4 798 136.6 801 135.6 802.5 134.3 804 132.2 805.5 142.7 805.7 145 805.4 146.5 804 148.7 795 148.1 784.5 148.1 775.5 149.7 769.5 149.8 759 151.2 754.5 151.4 744 149.6 738 141 723 139.7 708 140.5 707.4 136 707.6 61 708 60.1 714 59.8 714.3 59.5 717 41.5 719.3 37 724 32.5 727.5 30.5 732 29.3 738 28.7 748.5 28.4ZM641.9 74.5 648 73.8 655.5 74.9 656.6 79 655.8 137.5 655.5 138.9 640.5 139 636 139.6 630 141.4 622.5 141.6 618 140.9 610.5 137.5 608.9 136 607.5 133 603 121 603.6 113.5 603.3 98.5 603 96.2 602 94 597 87.5 595.5 86.3 594 86.1 592.5 88 590.1 92.5 588.2 97 587.5 100 587.8 104.5 589.4 112 589.9 118 592.9 124 593.1 128.5 595.2 134.5 595.5 139 592.5 143.8 591 145.4 585 149 582 150.3 581.3 149.5 579.7 146.5 578.1 140.5 578.1 130 579.7 118 580.3 100 579.2 88 579.1 82 579.5 79 580.9 76 582 74.7 583.5 75 586.5 76.1 589.5 77.9 592.5 78.4 601.5 76.6 606 76.3 615 76.3 627 77.6Z"/>
<path fill="#a4f018" fill-rule="evenodd" d="M750.7 31 756 30.6 762 31.8 768 31.1 783 31.5 786 32.3 787.8 34 788.4 35.5 787.8 43 788.8 52 790.5 52 794.1 49 796.5 48.4 804 49.9 805.2 58 805.5 64 805.2 76 804 87.4 801 85.7 798 84.7 789 85 786 84.2 784.5 83.4 781.5 80.5 777.2 73 775.5 70.9 772.5 69 771 68.6 769.5 69 768 69.9 766.5 69.5 766.2 68.5 766.5 67.3 769.1 65.5 768.6 64 768 63.7 760.5 64.1 757.5 68.1 753.8 65.5 753 65.2 751.5 65.3 749.1 70 744 72.5 743.7 74.5 745.5 77.8 748.5 80.4 751.5 81.5 754.5 81.7 757.5 81 763.5 77.6 765 78.4 767.4 83.5 770.9 88 771.2 89.5 770.4 92.5 768 95.4 763.5 98.3 761.8 100 760.3 103 759.4 107.5 757.1 113.5 756.7 116.5 757.3 121 758.8 124 761.2 127 763.1 128.5 774 134.8 775.5 136.1 778.1 140.5 780 142.5 784.4 145 780.6 146.5 775.5 147.7 769.5 147.7 759 149.4 754.5 149.5 744 147.6 738 138.9 723 137.4 708 138.4 707.9 137.5 707.9 61 714 60.5 715.1 59.5 715.5 55.9 718.1 53.5 718.8 52 721.9 40 723 38.1 726 35.3 730.5 32.8 735 31.7 745.5 31.5ZM714 88.5 712.9 89.5 712.3 92.5 713.5 103 712.8 116.5 714 124 715.5 127 718.5 128.4 721.5 128.1 723.3 127 726 124.3 727.5 124.6 729 125.2 730.5 125 731.4 124 731.6 122.5 730.3 116.5 730.6 107.5 729.3 100 724.8 92.5 723 90.6 718.5 88.6 715.5 88.1ZM644.5 76 649.5 75.7 655.5 76.9 656.2 80.5 655.5 106.9 654 107.8 652.5 107.8 648 105.1 645.3 104.5 642 103.6 640.5 102.3 637.7 95.5 633.1 89.5 630.9 83.5 629 80.5 631.5 79ZM581.4 77.5 582 76.7 586.5 78.2 588.9 80.5 589.8 83.5 588.7 88 583.1 97 582.5 100 584.3 110.5 587.1 116.5 588.4 121 590.4 125.5 590.8 130 592.8 136 593.1 139 592.8 140.5 591 142.7 586.5 145.9 582 148.2 580.5 146.1 578.8 140.5 578.9 128.5 580.8 118 581.8 100 581.6 97 580.5 91.8 579.9 85 580 80.5 580.5 78.7ZM600.8 79 606 78.5 615 78.5 619.3 79 623 80.5 622.1 82 621.7 85 622.1 92.5 623 95.5 625.8 100 630.3 106 633 109 638.3 113.5 642.2 124 642.5 125.5 641.8 128.5 639.4 133 637 136 635 137.5 631.5 138.8 625.5 139.5 621 139.3 618 138.7 615.3 137.5 614 136 610.3 124 609.9 118 608.6 110.5 608.5 104.5 609.5 97 609 92.7 608.4 91 607.3 89.5 601.5 85.9 598.6 82 597.8 80.5ZM803.9 142 804.4 145 804 146.5 798 145.3 795.3 145 799.5 144.1Z"/>
<path fill="#ffff00" fill-rule="evenodd" d="M735.6 35.5 738 35.1 744 35.4 754.5 34 756 34.3 757.1 35.5 757.5 37 756.5 47.5 755.8 50.5 754.8 52 753 53.5 750 55 748.5 55.3 746.8 55 744.6 53.5 742.6 50.5 740.7 46 739.5 44.1 738 42.6 733.5 39.5 733.2 38.5 733.8 37ZM766.3 35.5 768 34.9 781.5 34.7 783.5 35.5 784 37 783.9 38.5 782.8 44.5 780 50.6 777.8 53.5 775.5 55.3 774 55.8 772.5 55.6 771 54.7 769.5 52.7 768.8 50.5 765.8 38.5 765.8 37ZM722.7 52 723 51.7 724.8 52 727.3 55 728 56.5 729.1 61 731.7 65.5 732.8 68.5 733.8 76 737.3 82 739.2 86.5 746.7 94 748.6 97 749.6 103 748.5 110.5 747.8 112 747 112.8 745.5 112.8 744.4 112 741 107.5 738 105.1 735.1 101.5 731.6 94 724.4 83.5 720.4 76 717.5 73 715.9 70 716.1 67 718.5 62.8 718.8 59.5 719.3 58 721.5 52.8ZM793.5 59.5 796.5 58.6 799.5 58.2 804 58.8 804.1 59.5 804.3 65.5 804 74.6 802.5 72.9 801 71.9 799.5 71.7 795 74.4 792 78.8 790.5 79.1 789 78.2 787.5 76.4 786.6 73 786.8 67 787.5 64 788.5 62.5 790.3 61ZM581.8 79 582 78.7 583.4 79 585 79.8 585.9 80.5 586.7 82 587 83.5 586.6 85 585 88.2 582 91.9 580.9 83.5 581.1 80.5ZM639.3 79 648 77.5 655.5 78.9 655.5 87.6 652.5 91.7 651 92.8 649.5 93.4 648 93.5 646.5 93 645 92 643.5 90.3 641.3 86.5 638.4 83.5 636.5 80.5ZM614.6 104.5 616.5 103.1 618 103.4 627 112 632 118 633.3 122.5 633.5 128.5 633.1 131.5 631.5 135.3 630 136.5 628.5 137 624 137.2 619.5 136.3 618.1 134.5 614.9 125.5 614.4 119.5 613.1 115 613.2 107.5ZM581.8 119.5 582 118.8 583.5 118.4 585 119.4 588.3 127 589.2 133 590.4 137.5 590.5 140.5 586.6 143.5 582 146.1 580.5 143.8 579.6 140.5 579.5 131.5 579.8 127 580.5 123ZM742.9 128.5 744 127.4 745.5 127.6 749.3 130 760.2 134.5 765 137.5 766.7 139 768.8 142 769.3 145 763.5 146.7 757.5 147.7 754.5 147.7 749.2 146.5 745.5 145 744 142.9 741 140.6 740.5 139 738 136.1 737 136 739.2 134.5 740.6 133ZM770.2 145 772.5 143.7 774 144.2 774.6 145Z"/>
<path fill="#ffd010" fill-rule="evenodd" d="M724.1 68.5 724.5 68.2 724.8 68.5 725.1 70 724.5 70.4 723.8 70ZM644.9 80.5 648 79.7 651 80.6 649.5 82.4 648 82.8 646.5 82.2ZM581.5 124 582 122.5 583.5 123.5 585.2 125.5 586.2 128.5 587.4 140.5 585 142.2 582 143.9 580.3 140.5 580.3 130ZM753.6 142 754.5 141.1 756 141.1 757.5 141.9 758.5 143.5 758.7 145 756 145.5 753.4 145 753.1 143.5Z"/>
<path fill="#ffa800" fill-rule="evenodd" d="M581.9 127 582 126.6 582.4 127 583.7 130 583.9 140.5 582 141.8 581.4 140.5 581.2 131.5Z"/>
</g>
<rect x="547.5" y="26.5" width="269.0" height="189.0" fill="none" stroke="#000" stroke-width="1"/>
<path d="M547.5 212.35h3M816.5 212.35h-3M547.5 209.20h3M816.5 209.20h-3M547.5 206.05h3M816.5 206.05h-3M547.5 202.90h3M816.5 202.90h-3M547.5 199.75h3M816.5 199.75h-3M547.5 196.60h3M816.5 196.60h-3M547.5 193.45h3M816.5 193.45h-3M547.5 190.30h3M816.5 190.30h-3M547.5 187.15h3M816.5 187.15h-3M547.5 184.00h6M816.5 184.00h-6M547.5 180.85h3M816.5 180.85h-3M547.5 177.70h3M816.5 177.70h-3M547.5 174.55h3M816.5 174.55h-3M547.5 171.40h3M816.5 171.40h-3M547.5 168.25h3M816.5 168.25h-3M547.5 165.10h3M816.5 165.10h-3M547.5 161.95h3M816.5 161.95h-3M547.5 158.80h3M816.5 158.80h-3M547.5 155.65h3M816.5 155.65h-3M547.5 152.50h6M816.5 152.50h-6M547.5 149.35h3M816.5 149.35h-3M547.5 146.20h3M816.5 146.20h-3M547.5 143.05h3M816.5 143.05h-3M547.5 139.90h3M816.5 139.90h-3M547.5 136.75h3M816.5 136.75h-3M547.5 133.60h3M816.5 133.60h-3M547.5 130.45h3M816.5 130.45h-3M547.5 127.30h3M816.5 127.30h-3M547.5 124.15h3M816.5 124.15h-3M547.5 121.00h6M816.5 121.00h-6M547.5 117.85h3M816.5 117.85h-3M547.5 114.70h3M816.5 114.70h-3M547.5 111.55h3M816.5 111.55h-3M547.5 108.40h3M816.5 108.40h-3M547.5 105.25h3M816.5 105.25h-3M547.5 102.10h3M816.5 102.10h-3M547.5 98.95h3M816.5 98.95h-3M547.5 95.80h3M816.5 95.80h-3M547.5 92.65h3M816.5 92.65h-3M547.5 89.50h6M816.5 89.50h-6M547.5 86.35h3M816.5 86.35h-3M547.5 83.20h3M816.5 83.20h-3M547.5 80.05h3M816.5 80.05h-3M547.5 76.90h3M816.5 76.90h-3M547.5 73.75h3M816.5 73.75h-3M547.5 70.60h3M816.5 70.60h-3M547.5 67.45h3M816.5 67.45h-3M547.5 64.30h3M816.5 64.30h-3M547.5 61.15h3M816.5 61.15h-3M547.5 58.00h6M816.5 58.00h-6M547.5 54.85h3M816.5 54.85h-3M547.5 51.70h3M816.5 51.70h-3M547.5 48.55h3M816.5 48.55h-3M547.5 45.40h3M816.5 45.40h-3M547.5 42.25h3M816.5 42.25h-3M547.5 39.10h3M816.5 39.10h-3M547.5 35.95h3M816.5 35.95h-3M547.5 32.80h3M816.5 32.80h-3M547.5 29.65h3M816.5 29.65h-3M614.75 215.5v-4M614.75 26.5v4M682.00 215.5v-4M682.00 26.5v4M749.25 215.5v-4M749.25 26.5v4" stroke="#000" stroke-width="1" fill="none" shape-rendering="crispEdges"/>
<text transform="translate(531.50,215.00) scale(0.8305,1)" x="3.6 10.8" text-anchor="middle">6<tspan class="z">0</tspan></text>
<text transform="translate(531.50,188.00) scale(0.8305,1)" x="3.6 10.8" text-anchor="middle">7<tspan class="z">0</tspan></text>
<text transform="translate(531.50,156.50) scale(0.8305,1)" x="3.6 10.8" text-anchor="middle">8<tspan class="z">0</tspan></text>
<text transform="translate(531.50,125.00) scale(0.8305,1)" x="3.6 10.8" text-anchor="middle">9<tspan class="z">0</tspan></text>
<text transform="translate(525.50,93.50) scale(0.8305,1)" x="3.6 10.8 18.1" text-anchor="middle">1<tspan class="z">0</tspan><tspan class="z">0</tspan></text>
<text transform="translate(525.50,62.00) scale(0.8305,1)" x="3.6 10.8 18.1" text-anchor="middle">11<tspan class="z">0</tspan></text>
<text transform="translate(525.50,33.00) scale(0.8305,1)" x="3.6 10.8 18.1" text-anchor="middle">12<tspan class="z">0</tspan></text>
<text transform="translate(538.00,229.70) scale(0.8305,1)" x="3.6 10.8 18.1" text-anchor="middle">-9<tspan class="z">0</tspan></text>
<text transform="translate(611.25,229.70) scale(0.8305,1)" x="3.6" text-anchor="middle"><tspan class="z">0</tspan></text>
<text transform="translate(675.50,229.70) scale(0.8305,1)" x="3.6 10.8" text-anchor="middle">9<tspan class="z">0</tspan></text>
<text transform="translate(745.75,229.70) scale(0.8305,1)" x="3.6" text-anchor="middle"><tspan class="z">0</tspan></text>
<text transform="translate(807.00,229.70) scale(0.8305,1)" x="3.6 10.8 18.1" text-anchor="middle">-9<tspan class="z">0</tspan></text>
<text transform="translate(654.50,243.00) scale(0.8305,1)" x="3.6 10.8 18.1 25.3 32.5 39.7 47.0 54.2 61.4" text-anchor="middle">Lat (deg)</text>
<text transform="translate(588.50,20.20) scale(0.8305,1)" x="3.6 10.8 18.1 25.3 32.5 39.7 47.0 54.2 61.4 68.6 75.9 83.1 90.3 97.5 104.8 112.0 119.2 126.4 133.7 140.9 148.1 155.3 162.6 169.8 177.0 184.2 191.5 198.7 205.9 213.1 220.4" text-anchor="middle">Inverted Winds Zonal (coldside)</text>
<text transform="translate(516.80,54.50) scale(0.8305,1)" x="0 0 0 0 0 0 0 0 0 0 0 0 0" y="0 10 20 30 40 50 60 70 80 90 100 110 120" text-anchor="middle">Altitude (km)</text>
<rect x="845.5" y="206.10" width="28.0" height="9.70" fill="#280838"/>
<rect x="845.5" y="196.70" width="28.0" height="9.70" fill="#4a0a80"/>
<rect x="845.5" y="187.30" width="28.0" height="9.70" fill="#1018b0"/>
<rect x="845.5" y="177.90" width="28.0" height="9.70" fill="#1030f0"/>
<rect x="845.5" y="168.50" width="28.0" height="9.70" fill="#1070f0"/>
<rect x="845.5" y="159.10" width="28.0" height="9.70" fill="#10a8f0"/>
<rect x="845.5" y="149.70" width="28.0" height="9.70" fill="#10d0d0"/>
<rect x="845.5" y="140.30" width="28.0" height="9.70" fill="#08f0b0"/>
<rect x="845.5" y="130.90" width="28.0" height="9.70" fill="#30f080"/>
<rect x="845.5" y="121.50" width="28.0" height="9.70" fill="#80f020"/>
<rect x="845.5" y="112.10" width="28.0" height="9.70" fill="#c8f010"/>
<rect x="845.5" y="102.70" width="28.0" height="9.70" fill="#ffff00"/>
<rect x="845.5" y="93.30" width="28.0" height="9.70" fill="#ffd010"/>
<rect x="845.5" y="83.90" width="28.0" height="9.70" fill="#ffa800"/>
<rect x="845.5" y="74.50" width="28.0" height="9.70" fill="#e07828"/>
<rect x="845.5" y="65.10" width="28.0" height="9.70" fill="#c85048"/>
<rect x="845.5" y="55.70" width="28.0" height="9.70" fill="#e02058"/>
<rect x="845.5" y="46.30" width="28.0" height="9.70" fill="#f80060"/>
<rect x="845.5" y="36.90" width="28.0" height="9.70" fill="#f830b0"/>
<rect x="845.5" y="27.50" width="28.0" height="9.70" fill="#ff50ff"/>
<rect x="845.5" y="27.5" width="28.0" height="188.0" fill="none" stroke="#000"/>
<path d="M873.5 191.50h-6M873.5 168.00h-6M873.5 144.50h-6M873.5 121.00h-6M873.5 97.50h-6M873.5 74.00h-6M873.5 50.50h-6" stroke="#000" fill="none" shape-rendering="crispEdges"/>
<text transform="translate(878.50,217.40) scale(0.8305,1)" x="3.6 10.8 18.1 25.3 32.5 39.7" text-anchor="middle">-2<tspan class="z">0</tspan><tspan class="z">0</tspan>.<tspan class="z">0</tspan></text>
<text transform="translate(878.50,193.90) scale(0.8305,1)" x="3.6 10.8 18.1 25.3 32.5 39.7" text-anchor="middle">-15<tspan class="z">0</tspan>.<tspan class="z">0</tspan></text>
<text transform="translate(878.50,170.40) scale(0.8305,1)" x="3.6 10.8 18.1 25.3 32.5 39.7" text-anchor="middle">-1<tspan class="z">0</tspan><tspan class="z">0</tspan>.<tspan class="z">0</tspan></text>
<text transform="translate(884.50,146.90) scale(0.8305,1)" x="3.6 10.8 18.1 25.3 32.5" text-anchor="middle">-5<tspan class="z">0</tspan>.<tspan class="z">0</tspan></text>
<text transform="translate(896.50,123.40) scale(0.8305,1)" x="3.6 10.8 18.1" text-anchor="middle"><tspan class="z">0</tspan>.<tspan class="z">0</tspan></text>
<text transform="translate(890.50,99.90) scale(0.8305,1)" x="3.6 10.8 18.1 25.3" text-anchor="middle">5<tspan class="z">0</tspan>.<tspan class="z">0</tspan></text>
<text transform="translate(884.50,76.40) scale(0.8305,1)" x="3.6 10.8 18.1 25.3 32.5" text-anchor="middle">1<tspan class="z">0</tspan><tspan class="z">0</tspan>.<tspan class="z">0</tspan></text>
<text transform="translate(884.50,52.90) scale(0.8305,1)" x="3.6 10.8 18.1 25.3 32.5" text-anchor="middle">15<tspan class="z">0</tspan>.<tspan class="z">0</tspan></text>
<text transform="translate(884.50,29.40) scale(0.8305,1)" x="3.6 10.8 18.1 25.3 32.5" text-anchor="middle">2<tspan class="z">0</tspan><tspan class="z">0</tspan>.<tspan class="z">0</tspan></text>
<clipPath id="c2"><rect x="67.5" y="296.5" width="269" height="189"/></clipPath>
<g clip-path="url(#c2)" stroke="#000" stroke-opacity=".9" stroke-width="1.0" stroke-linejoin="round" shape-rendering="crispEdges">
<path fill="#560a90" fill-rule="evenodd" d="M216.3 295 313.4 295 313.3 416.5 312.9 431.5 312 434 310.5 435.2 289.5 435.2 283.5 435.1 281.5 433 279 428.5 277.5 426.9 255 426.8 253.5 427.8 252.6 430 249 436 241.5 436.2 235.5 436 234 435.1 231.8 431.5 231 429.5 229.5 427.7 205.5 427.7 204.7 427 203.3 421 202.9 412 202.8 347.5 203.2 338.5 204.2 332.5 204.7 331 205.5 330.1 214.5 329.9 215.1 329.5 216 315.6ZM107.5 329.5 109.5 329.2 198 329.2 199.5 329.9 200.5 332.5 200.8 341.5 200.9 410.5 200.5 424 199.7 427 198 427.9 187.5 427.8 169.5 427.8 165 434.5 163.5 435.2 109.5 435.4 105.4 434.5 103.7 433 102.5 428.5 101.8 416.5 101.3 352 102.2 337 103 332.5 103.8 331 105 330.2Z"/>
<path fill="#2418b0" fill-rule="evenodd" d="M218.1 295 313 295 312.9 410.5 312.7 421 311.9 428.5 311.2 431.5 310.5 432.7 289.5 432.5 283.5 432.3 277.5 424.4 255 424.3 253.5 425.2 249 433.4 241.5 433.7 235.5 433.4 234 432.4 231 426.9 229.5 425.1 205.5 425.1 204.7 422.5 204.3 419.5 203.9 406 203.9 349 204.4 338.5 205.5 333.3 216 332.5 216.5 329.5ZM107.5 332.5 109.5 331.7 142.5 332.2 168 331.7 198 331.6 199.4 334 199.8 335.5 200.5 347.5 200.6 398.5 200 419.5 199.5 422.6 198 425.4 189 425.3 169.5 425.2 165 431 163.5 431.7 144 432.4 129 432 109.5 432.4 108 431.7 106.5 430.3 105.4 428.5 104.3 425.5 103.1 416.5 102.5 353.5 103 344.5 103.9 338.5 105 335.3Z"/>
<path fill="#1428d0" fill-rule="evenodd" d="M220.1 295 312.6 295 312.4 409 312.2 419.5 311.4 427 310.5 430.2 291 430 283.5 429.4 282 427.9 279 423.4 277.5 421.9 255 421.8 253.5 422.7 249 430.8 241.5 431.4 235.5 430.8 234 429.8 231 424.2 229.5 422.6 205.5 422.6 204.6 416.5 204.2 407.5 204.2 347.5 204.7 340 205.5 336 216 334.9 216.5 334 217.1 331 218 320.5 218.7 302.5ZM168.9 334 198 334 198.7 335.5 199.5 338.7 200.1 346 200.5 368.5 200.1 410.5 199.7 416.5 198.8 421 198 422.9 169.5 422.5 165 427.6 163.5 428.1 144 429.3 136.5 429 127.5 428.7 109.5 429.4 107.2 427 105.8 424 104.3 416.5 103.2 370 103.3 352 104.2 344.5 105.2 340 107.5 335.5 109.5 334 142.5 335Z"/>
<path fill="#1040f0" fill-rule="evenodd" d="M227.2 296.5 228.5 295 312.1 295 312 409 311.7 419.5 311 425.5 310.5 427.7 309 428 292.5 427.5 283.5 426.6 282 425.1 279 420.8 277.5 419.4 255 419.3 253.5 420.1 249 428.2 241.5 429 235.5 428.2 234 427.1 231 421.6 229.5 420 205.5 420 204.7 413.5 204.5 404.5 204.5 347.5 205.1 340 205.5 338.3 216 337 217.5 335.6 219.2 317.5 219.7 307 220.4 302.5 221.2 301 223.5 298.7ZM108.7 337 109.5 336.4 115.5 336.4 144 337.8 154.5 337.5 168 336.4 198 336.3 199.5 343 200.1 353.5 200.1 395.5 199.5 413.3 198 420.4 190.5 420.2 169.5 419.9 165 424.1 163.5 424.5 154.5 425 144 426.3 129 425.4 109.5 426.3 108 424.7 107 422.5 105.5 416.5 104.5 397 103.9 368.5 104 353.5 104.7 347.5 106.5 340.5Z"/>
<path fill="#1064f0" fill-rule="evenodd" d="M257.8 296.5 259.5 295.2 261.2 295 268.5 301 271.5 302.3 273 302.4 276 301.7 279.5 299.5 281.9 296.5 282.1 295 311.8 295 311.7 409 311.3 419.5 310.5 425.2 309 425.5 297 425.3 283.5 423.8 282 422.4 279 418.2 277.5 416.9 262.5 417 255 416.8 253.5 417.6 249 425.6 243 426.6 240 426.5 235.5 425.7 234 424.5 231 419 229.5 417.5 205.5 417.5 204.8 410.5 204.7 347.5 205.5 340.4 217.5 338.7 218 337 219 325.8 221.7 317.5 221.5 308.5 222 306.6 223.7 304 226.5 302.1 228 301.7 231 301.6 235.5 303.4 240 306.7 241.5 307.2 244.5 307.1 247.5 305.7 253.5 299.1ZM108.3 340 109.5 338.7 129 339.4 142.5 340.6 154.5 340.1 168 338.7 184.5 339 198 338.6 199.2 344.5 199.8 353.5 199.9 377.5 199.3 410.5 198 418 190.5 417.7 169.5 417.3 165 420.7 154.5 421.6 144 423.3 129 422.1 109.5 423.3 107.9 421 106.6 416.5 105.4 397 104.6 370 104.8 352 106.4 344.5Z"/>
<path fill="#189cf0" fill-rule="evenodd" d="M287.2 295 311.6 295 311.4 407.5 311 419.5 310.5 422.7 309 423.1 297 422.8 291 422.3 283.5 421 282 419.6 279 415.6 277.5 414.4 255 414.3 253.5 415 249 423 241.5 424.3 235.5 423.1 234 421.8 231 416.4 229.5 415 228 415 205.5 415 205 404.5 204.9 361 205 346 205.5 342.3 217.5 340.5 218.5 337 219 331 220.5 325.6 225 321 226.5 319.9 229.5 318.9 232.5 318.8 238.9 320.5 241.5 320.8 244.5 320.5 247.5 319.1 252.5 311.5 253.2 310 254.3 305.5 255.6 304 258 302.8 259.5 303 260.5 304 261 307 262.5 307.6 265.5 307.9 267 308.6 273 316.4 277.9 319 280.5 319.9 282 320 283.4 319 283.8 317.5 284.2 310 285.2 304ZM225.1 308.5 226.5 308 227.9 308.5 228.3 310 228 310.3 226.5 311.5 225 311.1 224.5 310ZM109.2 341.5 109.5 341.1 114 341.1 127.5 341.8 139.5 343.3 144 343.4 154.5 342.8 168 341.1 184.5 341.4 198 341 199.4 350.5 199.7 361 199.5 395.5 198.9 410.5 198 415.5 192 415.2 169.5 414.6 165 417 154.5 418.2 144 420.2 141 420.2 133.5 419 129 418.8 109.5 420.3 108.2 418 107.8 416.5 107.1 409 106.3 397 105.3 365.5 105.6 352 107.5 344.5Z"/>
<path fill="#18d0e0" fill-rule="evenodd" d="M290.6 295 311.3 295 311.1 407.5 310.5 420.1 309 420.7 297 420.3 290.6 419.5 286.5 417.6 282 414.4 277.5 411.8 273 411.4 264 412.1 255 411.7 250.6 413.5 248.2 415 247.2 416.5 247.4 419.5 246.8 421 241.5 422 237.3 421 236.8 419.5 237 418 236.7 416.5 235.6 415 233.1 413.5 231 412.8 229.5 412.2 220.5 412.5 205.5 412.3 205.2 361 205.5 344.2 217.5 342.3 218.6 340 220.5 330.2 226.5 324.8 228 324.3 231 324.3 240 325.8 244.5 326.1 247.5 325.7 250.5 324.3 252.6 322 258 310.8 259.5 310.2 262 311.5 266 316 271.5 319.9 279.6 323.5 282 323.9 285.3 323.5 286.5 322.3 287 320.5 288.3 307ZM108.8 344.5 109.5 343.4 115.5 343.6 129 344.4 139.5 346.1 144 346.2 154.5 345.5 168 343.4 184.5 343.8 198 343.3 199.3 353.5 199.5 367 199.1 395.5 198.4 410.5 198 413 187.5 411.8 174 411.7 163.5 409.6 159 409.5 153 411 150 412.8 145.5 416.5 142.5 417 139.5 416.5 133.5 411.5 130.5 410.1 129 409.9 126 410.4 123 411.5 115.5 415.9 109.5 416.9 108.1 407.5 107.2 398.5 106 367 106.1 353.5 107.5 347.5Z"/>
<path fill="#18f0a8" fill-rule="evenodd" d="M293.7 295 311 295 311.1 362.5 310.5 414.9 309 416.4 295.3 416.5 291 414.6 282.9 409 277.5 407.5 271.5 406.6 264 407.4 255 407 244.5 408.6 232.5 407.9 226.5 408.1 222 408 213 406.8 205.5 407.1 205.5 346.2 219 343.5 220.5 335.3 228 330.6 231 329.9 234 329.8 246 330.4 250.5 329.6 253.5 327.1 256.5 321.9 258 320 259.5 319.2 262.5 319.1 264 319.5 270 322.8 277.5 325.6 282 326.1 285 325.8 286.5 325.2 288.2 323.5 290 317.5 292 302.5ZM109.4 346 115.5 345.9 127.5 346.8 142.5 349 154.5 348.2 168 345.8 184.5 346.2 198 345.7 199 353.5 199.2 370 198.8 397 198 410.5 194.9 409 189 405.2 186 405.1 181.5 405.9 174 406.1 171 404.9 165 400.3 162 399.7 159 399.8 151.5 401.4 148.5 402.7 146.9 404.5 144 409.9 142.5 410.7 141 409.8 135.7 403 133.5 400.8 132 399.7 130.5 399.1 129 399.5 126 401.6 123 402.5 120 402.1 115.5 400.6 114 401.1 109.5 407.3 108 396.6 106.6 364 106.8 353.5 108 348.7Z"/>
<path fill="#54f058" fill-rule="evenodd" d="M296.9 296.5 297.2 295 310.7 295 310.5 381.1 309 386.4 306.8 385 305.8 383.5 304.5 378.9 303 377.4 301.5 378.1 300.3 380.5 297.9 395.5 298.5 398.5 301.5 405.5 303 405.5 309 401.6 309.6 406 309 409.6 306 409.7 304.3 409 301.5 406.5 300.7 407.5 297 408.9 292.5 408.9 289.5 408.2 277.5 403.7 274.5 403 253.5 403.6 241.5 404.2 232.5 403.5 223.5 403.3 220.5 402 218 400 216.9 398.5 215.6 395.5 212.3 385 211 379 210.8 376 211.7 370 210.8 361 211.1 358 212.3 353.5 216.2 346 219 345.4 219.8 344.5 220.5 341.2 223.5 339 226.5 337.5 234 334.9 237 334.3 241.5 334.3 250.5 336 253.5 335.7 255 334.9 256.6 332.5 259.5 323.8 261 322.6 262.5 322.9 270 326.5 276 328 279 328.3 283.5 328 286.5 327.4 288 326.5 289.5 324.6 293 316 294.7 302.5ZM109.1 349 109.5 348.1 115.5 348.3 129 349.5 139.5 351.6 144 351.8 154.5 350.9 168 348.1 172.5 348 184.5 348.6 198 348 198.7 353.5 199 370 198.5 395.5 198 403.3 195 400.9 192.8 398.5 187.5 396.6 183 395.1 181.5 395 175.5 396.7 174 396.6 166.5 391.9 163.5 391.3 159 391.3 153 391.9 148.5 393.2 145.6 395.5 142.5 399.3 141 400 139.3 398.5 134.1 391 132 389.8 130.5 390.5 124.5 397.3 123 397.6 121.5 397.2 117 395.3 115.5 395 112.5 396 109.5 398.8 108 382 107.3 365.5 107.6 353.5Z"/>
<path fill="#a4f018" fill-rule="evenodd" d="M302.5 295 309.9 295 310.5 299.5 310.5 366.1 309 371.7 306 369.4 304.5 368.7 301.5 368.6 298.5 369.9 295.5 372.2 294 372.8 291 373.1 289.6 374.5 290 379 288.5 382 288.8 383.5 291 385.7 292.2 388 292.7 394 293.7 398.5 293.3 401.5 291 403.7 288 404.2 283.5 402.9 277.5 399.2 274.5 398.2 265.5 399 258 398.8 249 400 241.5 399.3 234 398 228 396.5 226.2 395.5 224.8 394 220.8 386.5 217.5 376.5 216.7 370 217.9 361 220 353.5 223 347.5 225 344.9 226.5 343.7 235.5 339.2 238.5 338.3 241.2 338.5 243 339.2 249 343.2 253.5 345.2 257.7 346 261 346 262.8 344.5 264.7 335.5 265.5 333.5 267 331.8 270 330.9 279 331 283.5 330.6 286.5 330 289.5 328.6 291.2 326.5 292.5 323.3 295.3 319 296.8 316 297.3 313 296.7 307 297 305.2 299.3 299.5 301.8 296.5ZM109.5 350.5 115.5 350.7 129 352 134.4 353.5 135.5 364 135.3 367 133.9 371.5 130.5 377.8 128.2 383.5 124.5 388.6 123 390.1 121.5 390.8 120 391 117 390.3 114 389.1 109.5 386.4 108.3 373 108 364 108.4 353.5ZM168 350.5 172.5 350.3 184.5 351 198 350.3 198.4 353.5 198.7 370 198 398.8 195 396.3 191.3 394 187.5 391.5 178.5 387.4 175.5 386.7 171 386.6 165 384.7 157.6 383.5 154.6 382 153.5 380.5 152.7 377.5 152.7 370 154.4 359.5 156 355 156.7 353.5 162 351.7Z"/>
<path fill="#ffff00" fill-rule="evenodd" d="M271.7 337 276 335.7 280.5 336.5 285 336.2 288 336.7 290.1 338.5 292.5 343.9 295 347.5 295.6 349 295.9 352 295.1 356.5 296 362.5 294.8 367 292.5 369.7 289.5 370.4 287.5 371.5 286.4 373 285.9 374.5 285.9 377.5 285 378.4 282 378.4 280.5 379.2 280.2 380.5 280.5 381.8 282 384.1 286.5 386.1 288.1 388 288.7 394 290 398.5 289.8 400 288 400.5 286.5 400.3 283.5 398.5 282.3 395.5 282.6 391 282 389.5 280.5 389 274.5 390.9 270 391.8 267 391.5 264 390.6 262.5 390.9 259.5 391.7 256.5 392.1 253.5 391.8 250.5 390.9 249.3 391 246 392.2 243 392.5 238.5 391.6 235.5 390.1 233 388 231 385 228 382.3 225.8 379 224.2 374.5 224.1 367 225.4 362.5 228 358 228.4 355 229.6 352 231.8 349 235.5 345.5 237 344.7 238.5 344.5 240 344.9 244.1 347.5 252 350.5 262.5 353.3 267 352.9 269 352 269.2 350.5 267.6 346 268 341.5 269.6 338.5ZM109.4 353.5 109.5 353.1 116.2 353.5 117.8 356.5 119 361 120 362.3 124.3 365.5 125.3 367 126.2 370 126.1 374.5 124.1 380.5 123 382.8 121.5 384.1 120 384.5 118.5 384.4 115.5 382.8 109.5 376.1 109 365.5ZM166.1 353.5 171 352.9 175.5 353.1 180.1 353.5 184.5 355 186 354.8 188.9 353.5 198 352.9 198.4 370 198 388 192 387.1 187.7 385 181.5 381.1 178.5 380.2 171 379.5 168 377.5 164.6 373 163.9 371.5 163.5 368.5 163.7 359.5 164.6 356.5Z"/>
<path fill="#ffd010" fill-rule="evenodd" d="M275.7 340 279 340.4 282 341.3 285 343 286.5 344.5 288.7 347.5 290.1 350.5 290.8 356.5 290.6 362.5 289.5 365.5 285 369.3 279 375.8 278.2 377.5 277.5 382.3 276 384.5 273 386.1 270 386.7 250.5 387.5 244.5 387.1 241.9 386.5 240 385.7 237.3 383.5 231 376 229.7 373 229.2 370 229.9 367 233.2 359.5 234.7 355 237 351.3 238.5 350.3 240 350.1 246 352.9 259.5 357.9 262.5 358.3 265.5 357.8 270 355.5 272.1 353.5 272.6 352 272.4 350.5 270.8 346 271.2 343 273 340.7ZM196.5 361 198 360.7 198 379.8 195 379.6 192 378.9 190.2 377.5 188.7 374.5 187.8 370 187.8 367 188.4 365.5 190.5 363.5 193.5 361.9Z"/>
<path fill="#ffa800" fill-rule="evenodd" d="M274.2 346 274.5 345.4 276 344.5 277.5 344.8 279.8 346 283.5 348.9 285 350.4 285.8 352 286.2 356.5 285.3 361 283.5 364 278.2 370 274.8 373 273 375.1 271.5 376 271.2 377.5 271.5 378 273 378.4 273 379.2 271.5 379.6 266.6 382 262.5 382.8 252 383.3 247.5 382.7 243 381.6 240.7 380.5 239.2 379 236.7 374.5 235.8 371.5 235.9 368.5 236.7 365.5 238.5 361.2 240 358.9 241.5 357.7 244.5 357.5 253.5 360.9 259.5 364.4 262.5 365 265.5 364.3 268.5 362.8 271.5 360.5 274.5 357.5 276 355 276.9 352 276.9 350.5 274.5 347.8Z"/>
</g><g transform="translate(0,270)"><path d="M92.5 62 L94 58.6 L97 57.4 L100 59 L101.6 62.5 L103 60.2 L105.2 62.5 L105.2 140 L103.4 150 L101.6 153 L100 160 L96 166.4 L93.6 167.8 L92.2 160 L91.6 120 L91.8 75 Z" fill="#000"/></g>
<rect x="67.5" y="296.5" width="269.0" height="189.0" fill="none" stroke="#000" stroke-width="1"/>
<path d="M67.5 482.35h3M336.5 482.35h-3M67.5 479.20h3M336.5 479.20h-3M67.5 476.05h3M336.5 476.05h-3M67.5 472.90h3M336.5 472.90h-3M67.5 469.75h3M336.5 469.75h-3M67.5 466.60h3M336.5 466.60h-3M67.5 463.45h3M336.5 463.45h-3M67.5 460.30h3M336.5 460.30h-3M67.5 457.15h3M336.5 457.15h-3M67.5 454.00h6M336.5 454.00h-6M67.5 450.85h3M336.5 450.85h-3M67.5 447.70h3M336.5 447.70h-3M67.5 444.55h3M336.5 444.55h-3M67.5 441.40h3M336.5 441.40h-3M67.5 438.25h3M336.5 438.25h-3M67.5 435.10h3M336.5 435.10h-3M67.5 431.95h3M336.5 431.95h-3M67.5 428.80h3M336.5 428.80h-3M67.5 425.65h3M336.5 425.65h-3M67.5 422.50h6M336.5 422.50h-6M67.5 419.35h3M336.5 419.35h-3M67.5 416.20h3M336.5 416.20h-3M67.5 413.05h3M336.5 413.05h-3M67.5 409.90h3M336.5 409.90h-3M67.5 406.75h3M336.5 406.75h-3M67.5 403.60h3M336.5 403.60h-3M67.5 400.45h3M336.5 400.45h-3M67.5 397.30h3M336.5 397.30h-3M67.5 394.15h3M336.5 394.15h-3M67.5 391.00h6M336.5 391.00h-6M67.5 387.85h3M336.5 387.85h-3M67.5 384.70h3M336.5 384.70h-3M67.5 381.55h3M336.5 381.55h-3M67.5 378.40h3M336.5 378.40h-3M67.5 375.25h3M336.5 375.25h-3M67.5 372.10h3M336.5 372.10h-3M67.5 368.95h3M336.5 368.95h-3M67.5 365.80h3M336.5 365.80h-3M67.5 362.65h3M336.5 362.65h-3M67.5 359.50h6M336.5 359.50h-6M67.5 356.35h3M336.5 356.35h-3M67.5 353.20h3M336.5 353.20h-3M67.5 350.05h3M336.5 350.05h-3M67.5 346.90h3M336.5 346.90h-3M67.5 343.75h3M336.5 343.75h-3M67.5 340.60h3M336.5 340.60h-3M67.5 337.45h3M336.5 337.45h-3M67.5 334.30h3M336.5 334.30h-3M67.5 331.15h3M336.5 331.15h-3M67.5 328.00h6M336.5 328.00h-6M67.5 324.85h3M336.5 324.85h-3M67.5 321.70h3M336.5 321.70h-3M67.5 318.55h3M336.5 318.55h-3M67.5 315.40h3M336.5 315.40h-3M67.5 312.25h3M336.5 312.25h-3M67.5 309.10h3M336.5 309.10h-3M67.5 305.95h3M336.5 305.95h-3M67.5 302.80h3M336.5 302.80h-3M67.5 299.65h3M336.5 299.65h-3M134.75 485.5v-4M134.75 296.5v4M202.00 485.5v-4M202.00 296.5v4M269.25 485.5v-4M269.25 296.5v4" stroke="#000" stroke-width="1" fill="none" shape-rendering="crispEdges"/>
<text transform="translate(51.50,485.00) scale(0.8305,1)" x="3.6 10.8" text-anchor="middle">6<tspan class="z">0</tspan></text>
<text transform="translate(51.50,458.00) scale(0.8305,1)" x="3.6 10.8" text-anchor="middle">7<tspan class="z">0</tspan></text>
<text transform="translate(51.50,426.50) scale(0.8305,1)" x="3.6 10.8" text-anchor="middle">8<tspan class="z">0</tspan></text>
<text transform="translate(51.50,395.00) scale(0.8305,1)" x="3.6 10.8" text-anchor="middle">9<tspan class="z">0</tspan></text>
<text transform="translate(45.50,363.50) scale(0.8305,1)" x="3.6 10.8 18.1" text-anchor="middle">1<tspan class="z">0</tspan><tspan class="z">0</tspan></text>
<text transform="translate(45.50,332.00) scale(0.8305,1)" x="3.6 10.8 18.1" text-anchor="middle">11<tspan class="z">0</tspan></text>
<text transform="translate(45.50,303.00) scale(0.8305,1)" x="3.6 10.8 18.1" text-anchor="middle">12<tspan class="z">0</tspan></text>
<text transform="translate(58.00,499.70) scale(0.8305,1)" x="3.6 10.8 18.1" text-anchor="middle">-9<tspan class="z">0</tspan></text>
<text transform="translate(131.25,499.70) scale(0.8305,1)" x="3.6" text-anchor="middle"><tspan class="z">0</tspan></text>
<text transform="translate(195.50,499.70) scale(0.8305,1)" x="3.6 10.8" text-anchor="middle">9<tspan class="z">0</tspan></text>
<text transform="translate(265.75,499.70) scale(0.8305,1)" x="3.6" text-anchor="middle"><tspan class="z">0</tspan></text>
<text transform="translate(327.00,499.70) scale(0.8305,1)" x="3.6 10.8 18.1" text-anchor="middle">-9<tspan class="z">0</tspan></text>
<text transform="translate(174.50,513.00) scale(0.8305,1)" x="3.6 10.8 18.1 25.3 32.5 39.7 47.0 54.2 61.4" text-anchor="middle">Lat (deg)</text>
<text transform="translate(93.50,290.20) scale(0.8305,1)" x="3.6 10.8 18.1 25.3 32.5 39.7 47.0 54.2 61.4 68.6 75.9 83.1 90.3 97.5 104.8 112.0 119.2 126.4 133.7 140.9 148.1 155.3 162.6 169.8 177.0 184.2 191.5 198.7 205.9 213.1 220.4 227.6 234.8 242.0 249.2 256.5" text-anchor="middle">Inverted Winds Meridional (warmside)</text>
<text transform="translate(36.80,324.50) scale(0.8305,1)" x="0 0 0 0 0 0 0 0 0 0 0 0 0" y="0 10 20 30 40 50 60 70 80 90 100 110 120" text-anchor="middle">Altitude (km)</text>
<rect x="374.5" y="476.10" width="28.0" height="9.70" fill="#280838"/>
<rect x="374.5" y="466.70" width="28.0" height="9.70" fill="#4a0a80"/>
<rect x="374.5" y="457.30" width="28.0" height="9.70" fill="#1018b0"/>
<rect x="374.5" y="447.90" width="28.0" height="9.70" fill="#1030f0"/>
<rect x="374.5" y="438.50" width="28.0" height="9.70" fill="#1070f0"/>
<rect x="374.5" y="429.10" width="28.0" height="9.70" fill="#10a8f0"/>
<rect x="374.5" y="419.70" width="28.0" height="9.70" fill="#10d0d0"/>
<rect x="374.5" y="410.30" width="28.0" height="9.70" fill="#08f0b0"/>
<rect x="374.5" y="400.90" width="28.0" height="9.70" fill="#30f080"/>
<rect x="374.5" y="391.50" width="28.0" height="9.70" fill="#80f020"/>
<rect x="374.5" y="382.10" width="28.0" height="9.70" fill="#c8f010"/>
<rect x="374.5" y="372.70" width="28.0" height="9.70" fill="#ffff00"/>
<rect x="374.5" y="363.30" width="28.0" height="9.70" fill="#ffd010"/>
<rect x="374.5" y="353.90" width="28.0" height="9.70" fill="#ffa800"/>
<rect x="374.5" y="344.50" width="28.0" height="9.70" fill="#e07828"/>
<rect x="374.5" y="335.10" width="28.0" height="9.70" fill="#c85048"/>
<rect x="374.5" y="325.70" width="28.0" height="9.70" fill="#e02058"/>
<rect x="374.5" y="316.30" width="28.0" height="9.70" fill="#f80060"/>
<rect x="374.5" y="306.90" width="28.0" height="9.70" fill="#f830b0"/>
<rect x="374.5" y="297.50" width="28.0" height="9.70" fill="#ff50ff"/>
<rect x="374.5" y="297.5" width="28.0" height="188.0" fill="none" stroke="#000"/>
<path d="M402.5 461.50h-6M402.5 438.00h-6M402.5 414.50h-6M402.5 391.00h-6M402.5 367.50h-6M402.5 344.00h-6M402.5 320.50h-6" stroke="#000" fill="none" shape-rendering="crispEdges"/>
<text transform="translate(407.50,487.40) scale(0.8305,1)" x="3.6 10.8 18.1 25.3 32.5 39.7" text-anchor="middle">-2<tspan class="z">0</tspan><tspan class="z">0</tspan>.<tspan class="z">0</tspan></text>
<text transform="translate(407.50,463.90) scale(0.8305,1)" x="3.6 10.8 18.1 25.3 32.5 39.7" text-anchor="middle">-15<tspan class="z">0</tspan>.<tspan class="z">0</tspan></text>
<text transform="translate(407.50,440.40) scale(0.8305,1)" x="3.6 10.8 18.1 25.3 32.5 39.7" text-anchor="middle">-1<tspan class="z">0</tspan><tspan class="z">0</tspan>.<tspan class="z">0</tspan></text>
<text transform="translate(413.50,416.90) scale(0.8305,1)" x="3.6 10.8 18.1 25.3 32.5" text-anchor="middle">-5<tspan class="z">0</tspan>.<tspan class="z">0</tspan></text>
<text transform="translate(425.50,393.40) scale(0.8305,1)" x="3.6 10.8 18.1" text-anchor="middle"><tspan class="z">0</tspan>.<tspan class="z">0</tspan></text>
<text transform="translate(419.50,369.90) scale(0.8305,1)" x="3.6 10.8 18.1 25.3" text-anchor="middle">5<tspan class="z">0</tspan>.<tspan class="z">0</tspan></text>
<text transform="translate(413.50,346.40) scale(0.8305,1)" x="3.6 10.8 18.1 25.3 32.5" text-anchor="middle">1<tspan class="z">0</tspan><tspan class="z">0</tspan>.<tspan class="z">0</tspan></text>
<text transform="translate(413.50,322.90) scale(0.8305,1)" x="3.6 10.8 18.1 25.3 32.5" text-anchor="middle">15<tspan class="z">0</tspan>.<tspan class="z">0</tspan></text>
<text transform="translate(413.50,299.40) scale(0.8305,1)" x="3.6 10.8 18.1 25.3 32.5" text-anchor="middle">2<tspan class="z">0</tspan><tspan class="z">0</tspan>.<tspan class="z">0</tspan></text>
<clipPath id="c3"><rect x="547.5" y="296.5" width="269" height="189"/></clipPath>
<g clip-path="url(#c3)" stroke="#000" stroke-opacity=".9" stroke-width="1.0" stroke-linejoin="round" shape-rendering="crispEdges">
<path fill="#560a90" fill-rule="evenodd" d="M695.3 295 793.4 295 793.3 412 792.8 430 792.1 433 791.2 434.5 790.5 434.9 772.5 434.9 763.5 434.8 761.9 433 759 427.9 757.5 426.1 735 426.3 733.5 427.3 729 434.9 726 435 715.5 434.8 714 434 711 429.1 709.5 427.5 699 427.3 685.5 427.8 684.5 427 683.2 421 682.8 409 682.8 346 683.1 337 684.2 331 685.5 329.6 694.5 329.5 694.9 328ZM611.7 331 615 331.1 630 334.6 636 334.7 643.5 331.1 678 330 679.6 331 680.6 338.5 680.8 349 680.9 412 680.5 425.5 679.5 427.5 678 428 649.5 428.9 646.5 429 643.5 429.9 630 436.3 589.5 436.3 586.5 435.7 585 434.9 583.8 433 582.9 428.5 582.5 421 582.4 364 583 349 585 337 586.8 335.5 592.5 334.4 598.5 331.8Z"/>
<path fill="#2418b0" fill-rule="evenodd" d="M697.1 295 792.9 295 793 385 792.6 415 791.7 427 790.5 431.3 769.5 431.4 763.5 431 757.5 423.3 753 422.9 744 422.7 735 423.9 733.5 424.8 729 431.3 724.5 431.6 720 431.6 715.5 431 714 430.1 711 425.8 709.5 424.3 708 424 699 423.4 685.5 425.5 684.6 422.5 684.3 419.5 683.6 401.5 683.7 346 684.3 337 684.6 334 685.5 331.7 696 331 696.4 307ZM647.3 337 666 335.8 678 335.8 678.5 337 679.5 340.5 680 344.5 680.6 361 680.5 412 680.3 419.5 679.5 424.2 678 426.3 646.5 427.1 630 433.7 613.5 434.1 589.5 433.9 587.9 433 586.5 431.6 585.1 428.5 584.2 424 583.7 415 583.3 377.5 583.9 358 584.6 352 585.5 347.5 586.8 344.5 589.5 340.5 592.5 340.7 604.5 337.7 610.5 337.1 615 337.4 630 340.7Z"/>
<path fill="#1428d0" fill-rule="evenodd" d="M698.5 295 792.4 295 792.8 311.5 792.6 383.5 791.9 415 791 425.5 790.5 427.7 789 427.9 766.5 427.6 763.5 427.1 757.5 420.4 750 419.5 742.5 419.6 735 421.6 733.5 422.4 729 427.7 724.5 428.3 720 428.2 715.5 427.1 714 426.1 709.5 421.1 703.5 419.7 700.5 419.5 697.5 419.8 685.5 423.2 684.5 416.5 684.1 403 684.1 346 684.6 338.5 685.5 333.7 696 332.9 696.8 331 697.4 307ZM677.5 340 678 339.9 678.5 341.5 679.4 346 680.2 362.5 680.1 413.5 679.5 420.9 678 424.5 655.5 424.9 646.5 425.4 630 431.2 622.5 431.9 591 431.7 589.5 431.6 588 430.1 585.8 425.5 584.8 418 584.2 406 584 374.5 584.5 362.5 585.4 355 587.1 349 589.5 345 594 344.7 601.5 343.1 609 342.2 613.5 342.2 625.5 344 631.5 344.2 651 341.1Z"/>
<path fill="#1040f0" fill-rule="evenodd" d="M699.9 295 791.9 295 792.5 311.5 792.2 380.5 791.5 413.5 790.5 424 789 424.4 766.5 424 763.5 422.8 757.5 417.6 753 416.5 748.5 416.1 744 416.2 741 416.9 733.5 420 729 424.1 724.5 424.9 720 424.8 717.2 424 714 421.8 709.5 417.9 705 416.2 700.5 415.3 697.5 415.8 689.8 419.5 685.5 420.9 684.8 416.5 684.3 401.5 684.4 346 684.8 340 685.5 335.7 696 334.5 697.5 334 698.3 307ZM649.4 344.5 658.5 344.1 667.5 344.2 678 343.4 679.2 350.5 679.9 362.5 679.9 409 679.5 416.6 678.7 421 678 422.7 655.5 423.1 646.5 423.7 639.6 425.5 630 428.7 622.5 429.7 615 429.9 606 429.4 589.5 429.3 587.2 425.5 586.1 421 585.1 410.5 584.6 377.5 585.5 361 586.5 355.5 588 350.9 589.5 348.2 595.5 347.6 606 345.8 613.5 345.8 630 347.5 636 346.9Z"/>
<path fill="#1064f0" fill-rule="evenodd" d="M701.2 295 791.6 295 792.2 311.5 791.9 380.5 791.1 412 790.5 418.7 789 419.2 781.5 419 777 418.4 771 418.6 763.5 416.7 753 413.3 744 413.1 741 413.9 733.5 417.6 730.5 419.6 726 420.6 723 420.7 717 418.9 706.7 413.5 700.5 411.3 697.5 410.8 696 411.1 694.5 411.9 690.3 416.5 685.5 418.7 684.8 410.5 684.5 400 684.6 346 685.1 340 685.5 337.7 697.5 336 697.8 335.5 698.2 334 699.3 305.5ZM648.1 347.5 655.5 346.8 670.5 348 678 346.9 679.5 359.5 679.6 373 679.5 409 679 416.5 678 421 655.5 421.3 646.5 422.1 639 423.6 628.5 426.6 618 427.9 606 427.2 589.5 427 588 424.1 586.9 419.5 585.8 409 585.2 382 585.9 364 586.6 359.5 588 354.6 589.5 351.2 606 348.7 613.5 348.8 630 350.3 634.5 349.9Z"/>
<path fill="#189cf0" fill-rule="evenodd" d="M702.6 295 791.3 295 791.9 310 791.7 373 790.5 414 789 415.4 781.5 414.6 777 415 771 413.5 765 412.9 762 412.1 754.5 410.9 748.5 410.5 744 410.6 739.5 411.9 732 415.7 727.5 416.7 724.5 416.7 717 415.1 702 408.9 697.5 407.9 696 408.1 693.9 409 687.5 415 685.5 416.4 684.6 400 684.8 346 685.2 341.5 685.5 339.6 697.5 337.6 698.7 337 700.1 307 700.9 301ZM645.7 350.5 652.5 349.7 657 349.7 670.5 352 678 350.4 679.2 361 679.3 373 679.2 407.5 678.7 415 678 419.1 655.5 419.4 646.5 420.4 640.5 421.2 628.5 424.4 621 425.6 616.5 425.8 606 425 591 424.9 589.5 424.6 589.2 424 587.9 419.5 586.8 412 585.9 392.5 585.8 377.5 586.4 367 586.9 362.5 588 357.9 589.5 354.1 604.5 351.9 613.5 351.7 630 353Z"/>
<path fill="#18d0e0" fill-rule="evenodd" d="M706.2 295 791 295 791.7 305.5 791.7 316 791.4 380.5 790.5 402.6 789 404.4 780 402.1 775.5 401.9 771.1 403 763.5 406.2 759 407.5 753 408.3 744 408.1 739.5 409.3 732 412.8 727.5 413.4 714 411.3 709.5 409.7 702 406.2 697.5 405.6 693 407.3 685.5 412.9 684.8 398.5 685 346 685.5 341.5 699 339 699.3 338.5 701.2 304 702 300.3 703 298 703.5 297.1 705 296.5ZM642.8 353.5 651 352.4 657 352.6 661.5 353.3 670.5 356 672 355.8 678 353.9 678.8 361 678.9 373 678.8 407.5 678 416.4 649.5 418.1 639 419.7 628.5 422.5 622.5 423.6 616.5 423.8 603 422.7 592.5 422.5 589.5 421.7 587.4 410.5 586.5 391 586.6 374.5 587.2 365.5 588.5 359.5 589.5 356.7 600 355.2 612 354.4 631.5 355.3Z"/>
<path fill="#18f0a8" fill-rule="evenodd" d="M722.1 296.5 725.1 295 790.7 295 791.4 304 791.6 314.5 791.1 379 790.5 395.7 789 397.2 780 395.7 775.5 395.9 772.5 396.4 766.5 398.3 759 402.8 754.5 404.6 751.5 405.2 745.5 405.3 741 405.8 733.5 409.5 732 410 729 410.2 721.5 408.3 717 408.9 714 408.7 702 403.5 697.5 403 694.5 404 688.5 408.3 685.5 410 685 398.5 685.1 356.5 685.5 343.4 697.5 341.1 699 340.7 699.9 340 701.7 307 702.4 302.5 703.5 299.6 708 297.6 711 296.8ZM649.4 355 655.5 355 660 355.7 670.5 360 672 359.8 678 357.3 678.5 362.5 678.5 373 678.5 406 678 412.8 672 414.3 648 416.2 636 418.3 625.5 421.4 619.5 421.9 613.5 421.6 594.8 419.5 591 418.8 589.5 418 587.8 407.5 587.2 394 587 382 587.2 374.5 588 365.5 589.5 359.3 600 357.8 612 357.1 619.5 357.2 630 358Z"/>
<path fill="#54f058" fill-rule="evenodd" d="M750.8 296.5 754.5 295.5 760.5 296.4 763.7 295 785.1 295 790.5 297.2 791.2 304 791.4 313 791 373 790.5 390.1 789 391.6 778.5 390.9 775.5 391 765 394.5 757.5 399.3 750 402.2 747 402.6 742.5 402.5 739.5 402.9 736.5 403.9 732 406.5 730.5 406.5 729.2 406 727.5 404.5 726.8 403 726.9 401.5 729 397 729.1 389.5 727.5 381.5 726 379.8 724.5 379.7 722.4 380.5 720.5 382 718.5 384.2 717.5 386.5 717.1 389.5 717.6 394 720.6 401.5 720.1 403 718.8 404.5 715.5 406 708 403 703.5 400.7 699 400 694.5 401.1 688.5 405.9 685.5 407.3 685.2 398.5 685.5 345.3 697.5 342.9 700.5 342.1 700.8 341.5 701.1 326.5 702.4 308.5 703.5 302.6 705 301.5 708 299.9 712.5 299 724.5 299 733.5 298 741 299.2ZM708 369.6 706.9 371.5 706.8 373 707.4 374.5 708 375.3 709.5 375.8 711 374.8 711.6 373 711 370.1 709.5 369.2ZM736.5 314.9 735 316.1 734.2 319 734.2 323.5 734.7 326.5 736.5 330 738 331.6 739.5 332.1 741 331.8 742.2 331 743.3 329.5 743.7 328 743.4 326.5 742 323.5 741 319 740.3 317.5 739.5 316.2 738 315ZM646.9 358 654 357.3 658.5 357.9 663 359.8 670.5 364.7 672 365.2 673.5 364.8 678 360.9 678 408.4 675 410.4 672 411.3 648 413.8 634.5 416.4 624.9 419.5 621 419.8 616.5 419.7 603.7 418 596.9 416.5 591 414.8 589.5 413.9 588.6 407.5 588 398.2 587.6 382 587.9 373 588.7 365.5 589.5 361.9 594 361 606 360 618 359.8 634.5 360.2Z"/>
<path fill="#a4f018" fill-rule="evenodd" d="M765.6 298 769.5 297.7 780 297.8 789 298.6 790.5 299.4 791.2 313 790.6 379 790.5 384.4 789 386.9 775.5 387.6 771 388.4 760.5 393 753 398.4 747 400 741 399.8 738.5 398.5 737.4 397 735.3 386.5 732.9 377.5 732 375.7 730.5 374.4 726 372.3 720 371.1 718.5 370.2 716 365.5 714 363.7 706.5 361.8 705 362 704.1 362.5 702.8 364 700.9 368.5 700.1 371.5 700.2 374.5 701.6 380.5 705.7 391 705.7 392.5 705 393.5 704.5 394 697.5 396.2 693 398.3 691.5 399.4 688.5 403.1 685.5 404.3 685.4 386.5 685.5 354.9 688.7 350.5 690.7 346 699 344.4 700.5 343.9 701.4 343 701.7 326.5 702.9 317.5 703.5 308.3 706.2 304 708 302.5 709.5 302.1 720 301.6 722.9 302.5 725.6 304 727.3 305.5 727.6 307 727.1 311.5 727.4 314.5 731.1 326.5 733.6 332.5 735 334.7 738 338.1 744 342.9 745.4 344.5 746.9 347.5 748.5 352.1 756 362.9 758.9 365.5 760.5 366.4 762 366.3 763.5 365.2 765 362.7 765.5 361 765.6 355 766.6 350.5 766.5 349 765 344.5 765 340 763.5 337.4 759 333.9 756.2 331 755.6 329.5 755 323.5 748.8 317.5 744.8 307 744.6 305.5 745.1 304 746.3 302.5 748 301 751.5 299.1 754.5 298.5 760.5 298.5ZM649.4 361 655.5 360.1 658.5 361 666.4 365.5 672.5 373 673.1 374.5 673.3 377.5 672.9 385 672.1 389.5 672 392.5 673.6 403 673.1 406 671.8 407.5 669 408.5 663 409.3 657 410.6 648 411 640.5 412.9 633 413.7 624 417.2 621 417.5 616.5 417.2 604.5 415.4 591 410.6 589.5 409.4 588.4 394 588.2 382 588.4 374.5 589.5 365.1 591 364 592.5 363.7 600 363.7 606 363 613.5 363.4 628.5 363 636 363.6Z"/>
<path fill="#ffff00" fill-rule="evenodd" d="M754.6 301 768 300.3 775.5 300.8 781.5 300.4 789 300.7 790.5 301.6 791 313 790.5 368.5 790.5 371.3 789.9 374.5 789 378.4 786 379.9 783 380.8 775.5 381.2 774 380.9 772.6 380.5 771 379 772.4 373 771 363.9 770.1 353.5 770.9 349 770.7 344.5 774.6 331 774.1 325 772.4 320.5 771 319 769.5 318.7 768 319.6 764.7 323.5 763.4 328 762 328.5 760.9 328 759.9 323.5 756 319 754.4 316 753.4 313 751.6 304 752.2 302.5ZM709.3 308.5 711 307.5 712.5 307.4 714 308 714.6 308.5 716 311.5 717 312.5 721.5 315 724.5 318.3 726.5 322 732.5 337 735 340.8 739.9 346 742.1 349 745.3 356.5 750.9 367 753 369.3 757.5 372.6 760.5 376.4 764.6 380.5 764.8 382 762.5 385 754.5 390.6 752.6 392.5 750 395.1 747 396.4 745.5 396.5 743.9 395.5 742.1 385 741.6 376 739.7 373 736.6 370 730.5 368.6 725.8 365.5 721.5 363.8 717 361.3 711 359.7 706.5 356.8 702.7 355 700.7 353.5 701.8 349 700.1 346 702 345.4 702.5 344.5 702.2 332.5 703.1 322 703.5 320.2 704.8 319 705.7 317.5 706 313ZM695.8 353.5 697.5 353.1 699.5 353.5 699.9 355 699 355.8 697.5 356.9 696 356.8 695.3 355ZM621.8 367 624 366.7 626.5 367 631.5 369.5 643.5 369.4 649.5 368.3 652.5 369.1 656.9 373 658.5 373.7 660 375.1 662 380.5 662.7 385 662.4 391 660.5 401.5 659.9 403 658.7 404.5 655.5 405.9 651 405.9 642 407.5 639 407.5 631.5 408.5 628.5 409.5 625.6 412 623.2 413.5 619.5 414.1 614.6 413.5 607.7 412 600 407.7 594 405.4 591 403.1 589.5 400.8 588.9 382 589.5 370.9 594 369 597 368.3 601.5 368.2 606 368.6 610.5 367.8 618 368.5Z"/>
<path fill="#ffd010" fill-rule="evenodd" d="M756 304 759 303.5 769.6 304 770.6 305.5 770.4 307 769.3 310 767.3 313 763.5 317.3 762 317.5 760.4 316 757.5 310.2 755.8 305.5ZM780.5 304 789 302.9 790.5 304 790.8 313 790.5 335.3 789 340.4 783 334.9 781.9 332.5 781.9 328 783.3 320.5 780.9 314.5 780.7 310 779.4 305.5ZM709.7 320.5 714 319.1 717 319.1 720 319.8 721.5 320.7 723 322.4 726 327.1 727.1 329.5 730.5 341 738.3 350.5 739.4 353.5 740.6 359.5 742.5 364 742.6 365.5 742.1 367 741 368 739.5 368.3 737.3 367 732.7 365.5 729 363.3 724.5 361.4 720 358.5 712.5 355.6 709.5 353.2 706.5 349.7 703.5 344 703.4 343 703 335.5 703.5 325.4 705 323.3ZM618.3 371.5 622.5 370.3 624 370.5 625.5 371.1 630 374.2 631.5 374.7 634.5 375.1 640.5 375.1 646.4 376 648.3 377.5 650.5 380.5 651.8 383.5 652 385 651.6 388 650.5 391 648.9 394 646.1 397 643.5 398.4 640.5 399.3 631.5 399.9 630 400.3 621 405.3 618 406.3 615 405.8 609 402.3 599.8 398.5 593.8 395.5 591 393.9 589.5 388.6 589.5 377.9 591 374.7 592.5 374.2 598.5 374.1 610.5 371.8Z"/>
<path fill="#ffa800" fill-rule="evenodd" d="M786.6 307 789 305.8 790.5 308 790.5 319.9 789 328 788.5 326.5 787.8 320.5 785.3 314.5 785.3 310 785.6 308.5ZM714 325 717 324.7 718.5 325.1 721.5 326.9 723 328.5 724.5 331.5 728 344.5 729 346.3 733.3 350.5 734.2 352 734.2 353.5 733.7 355 732 356.6 729.8 356.5 727.6 355 726 354 717 353 714 351.9 709.5 348 706.3 343 705.3 340 704.9 337 705.1 334 706 331 708 327.8 709.9 326.5ZM620.7 374.5 622.5 374.2 624 374.7 632.6 380.5 636.2 383.5 637.5 386.5 637.5 390.4 636 392.1 628.5 393.5 624 395.2 619.5 396.7 616.5 395.6 615 394.3 609.8 388 608.5 385 607.1 380.5 607.4 379 608.4 377.5 610.4 376 616.5 375.6Z"/>
<path fill="#e07828" fill-rule="evenodd" d="M712.3 331 715.5 330 717 330.3 718.5 331.1 720 332.5 721.5 334.9 723.3 340 723.1 343 721.8 346 720 347.5 717 348.7 715.5 348.7 714 348.1 711 344.8 709.5 342.3 708.8 338.5 709.2 335.5 710.6 332.5Z"/>
</g><g transform="translate(480,270)"><path d="M92.5 62 L94 58.6 L97 57.4 L100 59 L101.6 62.5 L103 60.2 L105.2 62.5 L105.2 140 L103.4 150 L101.6 153 L100 160 L96 166.4 L93.6 167.8 L92.2 160 L91.6 120 L91.8 75 Z" fill="#000"/></g>
<rect x="547.5" y="296.5" width="269.0" height="189.0" fill="none" stroke="#000" stroke-width="1"/>
<path d="M547.5 482.35h3M816.5 482.35h-3M547.5 479.20h3M816.5 479.20h-3M547.5 476.05h3M816.5 476.05h-3M547.5 472.90h3M816.5 472.90h-3M547.5 469.75h3M816.5 469.75h-3M547.5 466.60h3M816.5 466.60h-3M547.5 463.45h3M816.5 463.45h-3M547.5 460.30h3M816.5 460.30h-3M547.5 457.15h3M816.5 457.15h-3M547.5 454.00h6M816.5 454.00h-6M547.5 450.85h3M816.5 450.85h-3M547.5 447.70h3M816.5 447.70h-3M547.5 444.55h3M816.5 444.55h-3M547.5 441.40h3M816.5 441.40h-3M547.5 438.25h3M816.5 438.25h-3M547.5 435.10h3M816.5 435.10h-3M547.5 431.95h3M816.5 431.95h-3M547.5 428.80h3M816.5 428.80h-3M547.5 425.65h3M816.5 425.65h-3M547.5 422.50h6M816.5 422.50h-6M547.5 419.35h3M816.5 419.35h-3M547.5 416.20h3M816.5 416.20h-3M547.5 413.05h3M816.5 413.05h-3M547.5 409.90h3M816.5 409.90h-3M547.5 406.75h3M816.5 406.75h-3M547.5 403.60h3M816.5 403.60h-3M547.5 400.45h3M816.5 400.45h-3M547.5 397.30h3M816.5 397.30h-3M547.5 394.15h3M816.5 394.15h-3M547.5 391.00h6M816.5 391.00h-6M547.5 387.85h3M816.5 387.85h-3M547.5 384.70h3M816.5 384.70h-3M547.5 381.55h3M816.5 381.55h-3M547.5 378.40h3M816.5 378.40h-3M547.5 375.25h3M816.5 375.25h-3M547.5 372.10h3M816.5 372.10h-3M547.5 368.95h3M816.5 368.95h-3M547.5 365.80h3M816.5 365.80h-3M547.5 362.65h3M816.5 362.65h-3M547.5 359.50h6M816.5 359.50h-6M547.5 356.35h3M816.5 356.35h-3M547.5 353.20h3M816.5 353.20h-3M547.5 350.05h3M816.5 350.05h-3M547.5 346.90h3M816.5 346.90h-3M547.5 343.75h3M816.5 343.75h-3M547.5 340.60h3M816.5 340.60h-3M547.5 337.45h3M816.5 337.45h-3M547.5 334.30h3M816.5 334.30h-3M547.5 331.15h3M816.5 331.15h-3M547.5 328.00h6M816.5 328.00h-6M547.5 324.85h3M816.5 324.85h-3M547.5 321.70h3M816.5 321.70h-3M547.5 318.55h3M816.5 318.55h-3M547.5 315.40h3M816.5 315.40h-3M547.5 312.25h3M816.5 312.25h-3M547.5 309.10h3M816.5 309.10h-3M547.5 305.95h3M816.5 305.95h-3M547.5 302.80h3M816.5 302.80h-3M547.5 299.65h3M816.5 299.65h-3M614.75 485.5v-4M614.75 296.5v4M682.00 485.5v-4M682.00 296.5v4M749.25 485.5v-4M749.25 296.5v4" stroke="#000" stroke-width="1" fill="none" shape-rendering="crispEdges"/>
<text transform="translate(531.50,485.00) scale(0.8305,1)" x="3.6 10.8" text-anchor="middle">6<tspan class="z">0</tspan></text>
<text transform="translate(531.50,458.00) scale(0.8305,1)" x="3.6 10.8" text-anchor="middle">7<tspan class="z">0</tspan></text>
<text transform="translate(531.50,426.50) scale(0.8305,1)" x="3.6 10.8" text-anchor="middle">8<tspan class="z">0</tspan></text>
<text transform="translate(531.50,395.00) scale(0.8305,1)" x="3.6 10.8" text-anchor="middle">9<tspan class="z">0</tspan></text>
<text transform="translate(525.50,363.50) scale(0.8305,1)" x="3.6 10.8 18.1" text-anchor="middle">1<tspan class="z">0</tspan><tspan class="z">0</tspan></text>
<text transform="translate(525.50,332.00) scale(0.8305,1)" x="3.6 10.8 18.1" text-anchor="middle">11<tspan class="z">0</tspan></text>
<text transform="translate(525.50,303.00) scale(0.8305,1)" x="3.6 10.8 18.1" text-anchor="middle">12<tspan class="z">0</tspan></text>
<text transform="translate(538.00,499.70) scale(0.8305,1)" x="3.6 10.8 18.1" text-anchor="middle">-9<tspan class="z">0</tspan></text>
<text transform="translate(611.25,499.70) scale(0.8305,1)" x="3.6" text-anchor="middle"><tspan class="z">0</tspan></text>
<text transform="translate(675.50,499.70) scale(0.8305,1)" x="3.6 10.8" text-anchor="middle">9<tspan class="z">0</tspan></text>
<text transform="translate(745.75,499.70) scale(0.8305,1)" x="3.6" text-anchor="middle"><tspan class="z">0</tspan></text>
<text transform="translate(807.00,499.70) scale(0.8305,1)" x="3.6 10.8 18.1" text-anchor="middle">-9<tspan class="z">0</tspan></text>
<text transform="translate(654.50,513.00) scale(0.8305,1)" x="3.6 10.8 18.1 25.3 32.5 39.7 47.0 54.2 61.4" text-anchor="middle">Lat (deg)</text>
<text transform="translate(588.50,290.20) scale(0.8305,1)" x="3.6 10.8 18.1 25.3 32.5 39.7 47.0 54.2 61.4 68.6 75.9 83.1 90.3 97.5 104.8 112.0 119.2 126.4 133.7 140.9 148.1 155.3 162.6 169.8 177.0 184.2 191.5 198.7 205.9 213.1 220.4" text-anchor="middle">Inverted Winds Zonal (warmside)</text>
<text transform="translate(516.80,324.50) scale(0.8305,1)" x="0 0 0 0 0 0 0 0 0 0 0 0 0" y="0 10 20 30 40 50 60 70 80 90 100 110 120" text-anchor="middle">Altitude (km)</text>
<rect x="845.5" y="476.10" width="28.0" height="9.70" fill="#280838"/>
<rect x="845.5" y="466.70" width="28.0" height="9.70" fill="#4a0a80"/>
<rect x="845.5" y="457.30" width="28.0" height="9.70" fill="#1018b0"/>
<rect x="845.5" y="447.90" width="28.0" height="9.70" fill="#1030f0"/>
<rect x="845.5" y="438.50" width="28.0" height="9.70" fill="#1070f0"/>
<rect x="845.5" y="429.10" width="28.0" height="9.70" fill="#10a8f0"/>
<rect x="845.5" y="419.70" width="28.0" height="9.70" fill="#10d0d0"/>
<rect x="845.5" y="410.30" width="28.0" height="9.70" fill="#08f0b0"/>
<rect x="845.5" y="400.90" width="28.0" height="9.70" fill="#30f080"/>
<rect x="845.5" y="391.50" width="28.0" height="9.70" fill="#80f020"/>
<rect x="845.5" y="382.10" width="28.0" height="9.70" fill="#c8f010"/>
<rect x="845.5" y="372.70" width="28.0" height="9.70" fill="#ffff00"/>
<rect x="845.5" y="363.30" width="28.0" height="9.70" fill="#ffd010"/>
<rect x="845.5" y="353.90" width="28.0" height="9.70" fill="#ffa800"/>
<rect x="845.5" y="344.50" width="28.0" height="9.70" fill="#e07828"/>
<rect x="845.5" y="335.10" width="28.0" height="9.70" fill="#c85048"/>
<rect x="845.5" y="325.70" width="28.0" height="9.70" fill="#e02058"/>
<rect x="845.5" y="316.30" width="28.0" height="9.70" fill="#f80060"/>
<rect x="845.5" y="306.90" width="28.0" height="9.70" fill="#f830b0"/>
<rect x="845.5" y="297.50" width="28.0" height="9.70" fill="#ff50ff"/>
<rect x="845.5" y="297.5" width="28.0" height="188.0" fill="none" stroke="#000"/>
<path d="M873.5 461.50h-6M873.5 438.00h-6M873.5 414.50h-6M873.5 391.00h-6M873.5 367.50h-6M873.5 344.00h-6M873.5 320.50h-6" stroke="#000" fill="none" shape-rendering="crispEdges"/>
<text transform="translate(878.50,487.40) scale(0.8305,1)" x="3.6 10.8 18.1 25.3 32.5 39.7" text-anchor="middle">-2<tspan class="z">0</tspan><tspan class="z">0</tspan>.<tspan class="z">0</tspan></text>
<text transform="translate(878.50,463.90) scale(0.8305,1)" x="3.6 10.8 18.1 25.3 32.5 39.7" text-anchor="middle">-15<tspan class="z">0</tspan>.<tspan class="z">0</tspan></text>
<text transform="translate(878.50,440.40) scale(0.8305,1)" x="3.6 10.8 18.1 25.3 32.5 39.7" text-anchor="middle">-1<tspan class="z">0</tspan><tspan class="z">0</tspan>.<tspan class="z">0</tspan></text>
<text transform="translate(884.50,416.90) scale(0.8305,1)" x="3.6 10.8 18.1 25.3 32.5" text-anchor="middle">-5<tspan class="z">0</tspan>.<tspan class="z">0</tspan></text>
<text transform="translate(896.50,393.40) scale(0.8305,1)" x="3.6 10.8 18.1" text-anchor="middle"><tspan class="z">0</tspan>.<tspan class="z">0</tspan></text>
<text transform="translate(890.50,369.90) scale(0.8305,1)" x="3.6 10.8 18.1 25.3" text-anchor="middle">5<tspan class="z">0</tspan>.<tspan class="z">0</tspan></text>
<text transform="translate(884.50,346.40) scale(0.8305,1)" x="3.6 10.8 18.1 25.3 32.5" text-anchor="middle">1<tspan class="z">0</tspan><tspan class="z">0</tspan>.<tspan class="z">0</tspan></text>
<text transform="translate(884.50,322.90) scale(0.8305,1)" x="3.6 10.8 18.1 25.3 32.5" text-anchor="middle">15<tspan class="z">0</tspan>.<tspan class="z">0</tspan></text>
<text transform="translate(884.50,299.40) scale(0.8305,1)" x="3.6 10.8 18.1 25.3 32.5" text-anchor="middle">2<tspan class="z">0</tspan><tspan class="z">0</tspan>.<tspan class="z">0</tspan></text>
<text transform="translate(577.00,524.50) scale(0.8305,1)" x="3.6 10.8 18.1 25.3 32.5 39.7 47.0 54.2 61.4 68.6 75.9 83.1 90.3 97.5 104.8 112.0 119.2 126.4 133.7 140.9 148.1 155.3 162.6 169.8 177.0 184.2 191.5 198.7 205.9 213.1 220.4 227.6 234.8 242.0 249.2" text-anchor="middle">2<tspan class="z">0</tspan>12<tspan class="z">0</tspan>82v<tspan class="z">0</tspan>1 Wed Aug 1<tspan class="z">0</tspan> <tspan class="z">0</tspan>9:35:48 2<tspan class="z">0</tspan>16</text>
</svg>
</body></html>
